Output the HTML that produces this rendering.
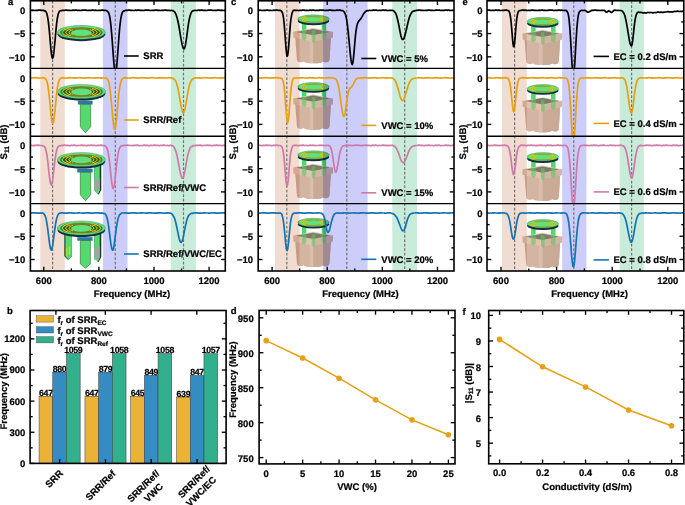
<!DOCTYPE html><html><head><meta charset="utf-8"><style>html,body{margin:0;padding:0;background:#fff;overflow:hidden;width:685px;height:505px;}svg{display:block;font-family:"Liberation Sans",sans-serif;text-rendering:geometricPrecision;will-change:transform;}svg text{stroke:#000;stroke-width:0.22px;}</style></head><body>
<svg width="685" height="505" viewBox="0 0 685 505">
<defs>
<clipPath id="clip_132_0"><rect x="30.4" y="0.8" width="194.9" height="67.60000000000001"/></clipPath>
<clipPath id="clip_132_1"><rect x="30.4" y="68.4" width="194.9" height="67.79999999999998"/></clipPath>
<clipPath id="clip_132_2"><rect x="30.4" y="136.2" width="194.9" height="67.4"/></clipPath>
<clipPath id="clip_132_3"><rect x="30.4" y="203.6" width="194.9" height="67.4"/></clipPath>
</defs>
<rect x="40.3" y="0.8" width="24.50" height="270.2" fill="#F0DCD0"/>
<rect x="102.9" y="0.8" width="24.60" height="270.2" fill="#CDCDFA"/>
<rect x="170.8" y="0.8" width="25.00" height="270.2" fill="#C8EBDA"/>
<line x1="52.6" y1="0.8" x2="52.6" y2="271.0" stroke="#747474" stroke-width="1.2" stroke-dasharray="2.8,1.7"/>
<line x1="115.3" y1="0.8" x2="115.3" y2="271.0" stroke="#747474" stroke-width="1.2" stroke-dasharray="2.8,1.7"/>
<line x1="183.5" y1="0.8" x2="183.5" y2="271.0" stroke="#747474" stroke-width="1.2" stroke-dasharray="2.8,1.7"/>
<ellipse cx="81.4" cy="34.25" rx="23.88" ry="6.9" fill="#142c40"/>
<ellipse cx="81.4" cy="32.25" rx="24.0" ry="6.9" fill="#5EE27C" stroke="#24503a" stroke-width="0.3"/>
<ellipse cx="81.4" cy="32.45" rx="20.16" ry="5.52" fill="#7C7A24"/>
<path d="M81.4,32.45 L95.01,28.01 A21.17,5.80 0 0 1 95.01,36.89 Z" fill="#2f5a2a"/>
<path d="M81.4,32.45 L67.79,28.01 A21.17,5.80 0 0 0 67.79,36.89 Z" fill="#2f5a2a"/>
<ellipse cx="81.4" cy="32.45" rx="20.16" ry="5.52" fill="none" stroke="#5EE27C" stroke-width="0.5"/>
<path d="M94.09,28.48 A18.96,5.34 0 0 1 94.09,36.42" fill="none" stroke="#EDD60A" stroke-width="0.98"/>
<path d="M68.71,28.48 A18.96,5.34 0 0 0 68.71,36.42" fill="none" stroke="#EDD60A" stroke-width="0.98"/>
<path d="M91.92,29.16 A15.72,4.43 0 0 1 91.92,35.74" fill="none" stroke="#EDD60A" stroke-width="0.98"/>
<path d="M70.88,29.16 A15.72,4.43 0 0 0 70.88,35.74" fill="none" stroke="#EDD60A" stroke-width="0.98"/>
<path d="M89.75,29.84 A12.48,3.52 0 0 1 89.75,35.06" fill="none" stroke="#EDD60A" stroke-width="0.98"/>
<path d="M73.05,29.84 A12.48,3.52 0 0 0 73.05,35.06" fill="none" stroke="#EDD60A" stroke-width="0.98"/>
<ellipse cx="81.4" cy="32.75" rx="10.56" ry="3.31" fill="#5EE27C"/>
<rect x="77.9" y="100.6" width="14.7" height="3.9" fill="#2a7aa0"/>
<path d="M80.3,104.3 L90.7,104.3 L90.7,126.8 L85.5,132.8 L80.3,126.8 Z" fill="#55DA70" stroke="#1f4a2a" stroke-width="0.5"/>
<ellipse cx="81.55" cy="93.45" rx="23.88" ry="7.05" fill="#142c40"/>
<ellipse cx="81.55" cy="91.45" rx="24.0" ry="7.05" fill="#5EE27C" stroke="#24503a" stroke-width="0.3"/>
<ellipse cx="81.55" cy="91.65" rx="20.16" ry="5.64" fill="#7C7A24"/>
<path d="M81.55,91.65 L95.16,87.11 A21.17,5.92 0 0 1 95.16,96.19 Z" fill="#2f5a2a"/>
<path d="M81.55,91.65 L67.94,87.11 A21.17,5.92 0 0 0 67.94,96.19 Z" fill="#2f5a2a"/>
<ellipse cx="81.55" cy="91.65" rx="20.16" ry="5.64" fill="none" stroke="#5EE27C" stroke-width="0.5"/>
<path d="M94.24,87.59 A18.96,5.46 0 0 1 94.24,95.71" fill="none" stroke="#EDD60A" stroke-width="0.98"/>
<path d="M68.86,87.59 A18.96,5.46 0 0 0 68.86,95.71" fill="none" stroke="#EDD60A" stroke-width="0.98"/>
<path d="M92.07,88.29 A15.72,4.53 0 0 1 92.07,95.01" fill="none" stroke="#EDD60A" stroke-width="0.98"/>
<path d="M71.03,88.29 A15.72,4.53 0 0 0 71.03,95.01" fill="none" stroke="#EDD60A" stroke-width="0.98"/>
<path d="M89.90,88.98 A12.48,3.59 0 0 1 89.90,94.32" fill="none" stroke="#EDD60A" stroke-width="0.98"/>
<path d="M73.20,88.98 A12.48,3.59 0 0 0 73.20,94.32" fill="none" stroke="#EDD60A" stroke-width="0.98"/>
<ellipse cx="81.55" cy="91.95" rx="10.56" ry="3.38" fill="#5EE27C"/>
<path d="M94.2,164.5 L101.3,164.5 L101.3,190.0 L98.55,194.8 L94.2,190.0 Z" fill="#1e3a2c"/>
<path d="M94.2,164.5 L99.70,164.5 L99.70,190.0 L97.75,194.20 L94.2,190.0 Z" fill="#55DA70"/>
<path d="M94.2,180.5 L99.70,178.0 L99.70,190.0 L97.75,194.20 L94.2,190.0 Z" fill="#A3A3A3"/>
<path d="M94.2,191.5 L99.70,189.0 L99.70,190.0 L97.75,194.20 L94.2,190.0 Z" fill="#55DA70"/>
<rect x="77.3" y="168.6" width="15.3" height="3.9" fill="#2a7aa0"/>
<path d="M80.3,172.3 L90.7,172.3 L90.7,194.8 L85.5,200.8 L80.3,194.8 Z" fill="#55DA70" stroke="#1f4a2a" stroke-width="0.5"/>
<ellipse cx="81.35" cy="161.45" rx="23.88" ry="7.05" fill="#142c40"/>
<ellipse cx="81.35" cy="159.45" rx="24.0" ry="7.05" fill="#5EE27C" stroke="#24503a" stroke-width="0.3"/>
<ellipse cx="81.35" cy="159.65" rx="20.16" ry="5.64" fill="#7C7A24"/>
<path d="M81.35,159.65 L94.96,155.11 A21.17,5.92 0 0 1 94.96,164.19 Z" fill="#2f5a2a"/>
<path d="M81.35,159.65 L67.74,155.11 A21.17,5.92 0 0 0 67.74,164.19 Z" fill="#2f5a2a"/>
<ellipse cx="81.35" cy="159.65" rx="20.16" ry="5.64" fill="none" stroke="#5EE27C" stroke-width="0.5"/>
<path d="M94.04,155.59 A18.96,5.46 0 0 1 94.04,163.71" fill="none" stroke="#EDD60A" stroke-width="0.98"/>
<path d="M68.66,155.59 A18.96,5.46 0 0 0 68.66,163.71" fill="none" stroke="#EDD60A" stroke-width="0.98"/>
<path d="M91.87,156.29 A15.72,4.53 0 0 1 91.87,163.01" fill="none" stroke="#EDD60A" stroke-width="0.98"/>
<path d="M70.83,156.29 A15.72,4.53 0 0 0 70.83,163.01" fill="none" stroke="#EDD60A" stroke-width="0.98"/>
<path d="M89.70,156.98 A12.48,3.59 0 0 1 89.70,162.32" fill="none" stroke="#EDD60A" stroke-width="0.98"/>
<path d="M73.00,156.98 A12.48,3.59 0 0 0 73.00,162.32" fill="none" stroke="#EDD60A" stroke-width="0.98"/>
<ellipse cx="81.35" cy="159.95" rx="10.56" ry="3.38" fill="#5EE27C"/>
<path d="M64.3,234.5 L71.9,234.5 L71.9,256.3 L68.10,260.1 L64.3,256.3 Z" fill="#1e3a2c"/>
<path d="M65.40,234.5 L71.9,234.5 L71.9,256.3 L68.40,259.60 L65.40,256.3 Z" fill="#55DA70"/>
<rect x="66.30" y="247.80" width="1.0" height="8" fill="#E6DC00"/><rect x="68.90" y="246.80" width="1.0" height="8" fill="#E6DC00"/>
<path d="M94.2,234.0 L101.3,234.0 L101.3,257.0 L98.55,262.3 L94.2,257.0 Z" fill="#1e3a2c"/>
<path d="M94.2,234.0 L99.70,234.0 L99.70,257.0 L97.75,261.70 L94.2,257.0 Z" fill="#55DA70"/>
<path d="M94.2,248.5 L99.70,246.0 L99.70,257.0 L97.75,261.70 L94.2,257.0 Z" fill="#A3A3A3"/>
<path d="M94.2,260.5 L99.70,258.0 L99.70,257.0 L97.75,261.70 L94.2,257.0 Z" fill="#55DA70"/>
<rect x="77.3" y="237.2" width="15.3" height="3.5" fill="#2a7aa0"/>
<path d="M80.3,240.5 L90.4,240.5 L90.4,263.9 L85.35,268.29999999999995 L80.3,263.9 Z" fill="#55DA70" stroke="#1f4a2a" stroke-width="0.5"/>
<ellipse cx="81.35" cy="229.95" rx="23.88" ry="7.05" fill="#142c40"/>
<ellipse cx="81.35" cy="227.95" rx="24.0" ry="7.05" fill="#5EE27C" stroke="#24503a" stroke-width="0.3"/>
<ellipse cx="81.35" cy="228.15" rx="20.16" ry="5.64" fill="#7C7A24"/>
<path d="M81.35,228.15 L94.96,223.61 A21.17,5.92 0 0 1 94.96,232.69 Z" fill="#2f5a2a"/>
<path d="M81.35,228.15 L67.74,223.61 A21.17,5.92 0 0 0 67.74,232.69 Z" fill="#2f5a2a"/>
<ellipse cx="81.35" cy="228.15" rx="20.16" ry="5.64" fill="none" stroke="#5EE27C" stroke-width="0.5"/>
<path d="M94.04,224.09 A18.96,5.46 0 0 1 94.04,232.21" fill="none" stroke="#EDD60A" stroke-width="0.98"/>
<path d="M68.66,224.09 A18.96,5.46 0 0 0 68.66,232.21" fill="none" stroke="#EDD60A" stroke-width="0.98"/>
<path d="M91.87,224.79 A15.72,4.53 0 0 1 91.87,231.51" fill="none" stroke="#EDD60A" stroke-width="0.98"/>
<path d="M70.83,224.79 A15.72,4.53 0 0 0 70.83,231.51" fill="none" stroke="#EDD60A" stroke-width="0.98"/>
<path d="M89.70,225.48 A12.48,3.59 0 0 1 89.70,230.82" fill="none" stroke="#EDD60A" stroke-width="0.98"/>
<path d="M73.00,225.48 A12.48,3.59 0 0 0 73.00,230.82" fill="none" stroke="#EDD60A" stroke-width="0.98"/>
<ellipse cx="81.35" cy="228.45" rx="10.56" ry="3.38" fill="#5EE27C"/>
<polyline points="30.4,10.1 30.9,10.2 31.4,10.3 31.9,10.3 32.4,10.3 32.9,10.2 33.4,10.3 33.9,10.4 34.4,10.5 34.9,10.5 35.4,10.5 35.9,10.3 36.4,10.3 36.9,10.3 37.4,10.3 37.9,10.3 38.4,10.2 38.9,10.1 39.4,10.1 39.9,10.1 40.4,10.2 40.9,10.3 41.4,10.4 41.9,10.4 42.4,10.4 42.9,10.4 43.4,10.4 43.9,10.6 44.4,10.8 44.9,10.9 45.4,11.1 45.9,11.6 46.4,12.4 46.9,13.9 47.4,15.9 47.9,18.7 48.4,22.2 48.9,26.6 49.4,31.7 49.9,37.4 50.4,43.4 50.9,49.0 51.4,53.6 51.9,56.8 52.4,58.3 52.9,57.9 53.4,55.7 53.9,51.9 54.4,47.0 55.0,41.2 55.5,35.3 56.0,29.6 56.5,24.7 57.0,20.7 57.5,17.5 58.0,15.1 58.5,13.3 59.0,12.1 59.5,11.3 60.0,10.9 60.5,10.8 61.0,10.7 61.5,10.6 62.0,10.5 62.5,10.4 63.0,10.3 63.5,10.3 64.0,10.4 64.5,10.3 65.0,10.3 65.5,10.1 66.0,10.1 66.5,10.1 67.0,10.2 67.5,10.3 68.0,10.3 68.5,10.3 69.0,10.3 69.5,10.3 70.0,10.4 70.5,10.5 71.0,10.5 71.5,10.5 72.0,10.4 72.5,10.3 73.0,10.2 73.5,10.2 74.0,10.3 74.5,10.3 75.0,10.2 75.5,10.1 76.0,10.1 76.5,10.1 77.0,10.3 77.5,10.4 78.0,10.4 78.5,10.4 79.0,10.4 79.5,10.4 80.0,10.4 80.5,10.5 81.0,10.5 81.5,10.4 82.0,10.3 82.5,10.1 83.0,10.1 83.5,10.2 84.0,10.2 84.5,10.2 85.0,10.2 85.5,10.1 86.0,10.2 86.5,10.3 87.0,10.4 87.5,10.5 88.0,10.5 88.5,10.4 89.0,10.4 89.5,10.3 90.0,10.4 90.5,10.4 91.0,10.4 91.5,10.3 92.0,10.1 92.5,10.1 93.0,10.1 93.5,10.2 94.0,10.3 94.5,10.3 95.0,10.3 95.5,10.2 96.0,10.3 96.5,10.4 97.0,10.5 97.5,10.5 98.0,10.5 98.5,10.4 99.0,10.3 99.5,10.3 100.0,10.3 100.5,10.3 101.0,10.3 101.5,10.2 102.0,10.1 102.5,10.1 103.0,10.1 103.6,10.3 104.1,10.4 104.6,10.4 105.1,10.4 105.6,10.4 106.1,10.5 106.6,10.7 107.1,11.0 107.6,11.4 108.1,12.0 108.6,12.8 109.1,14.1 109.6,16.1 110.1,19.0 110.6,22.7 111.1,27.3 111.6,32.8 112.1,39.1 112.6,45.9 113.1,53.0 113.6,59.7 114.1,65.4 114.6,69.6 115.1,72.0 115.6,72.2 116.1,70.4 116.6,66.8 117.1,61.6 117.6,55.2 118.1,48.2 118.6,41.1 119.1,34.5 119.6,28.8 120.1,24.0 120.6,20.1 121.1,17.0 121.6,14.7 122.1,13.1 122.6,12.0 123.1,11.4 123.6,11.1 124.1,10.9 124.6,10.7 125.1,10.5 125.6,10.4 126.1,10.3 126.6,10.4 127.1,10.4 127.6,10.3 128.1,10.2 128.6,10.1 129.1,10.1 129.6,10.1 130.1,10.3 130.6,10.3 131.1,10.3 131.6,10.3 132.1,10.3 132.6,10.3 133.1,10.5 133.6,10.5 134.1,10.5 134.6,10.4 135.1,10.3 135.6,10.2 136.1,10.2 136.6,10.3 137.1,10.3 137.6,10.2 138.1,10.1 138.6,10.1 139.1,10.1 139.6,10.2 140.1,10.4 140.6,10.4 141.1,10.4 141.6,10.4 142.1,10.3 142.6,10.4 143.1,10.5 143.6,10.5 144.1,10.4 144.6,10.3 145.1,10.2 145.6,10.1 146.1,10.1 146.6,10.2 147.1,10.3 147.6,10.2 148.1,10.2 148.6,10.1 149.1,10.2 149.6,10.4 150.1,10.5 150.6,10.5 151.1,10.5 151.6,10.4 152.1,10.3 152.7,10.3 153.2,10.4 153.7,10.4 154.2,10.3 154.7,10.2 155.2,10.1 155.7,10.1 156.2,10.1 156.7,10.2 157.2,10.3 157.7,10.3 158.2,10.2 158.7,10.3 159.2,10.3 159.7,10.5 160.2,10.5 160.7,10.5 161.2,10.4 161.7,10.3 162.2,10.3 162.7,10.3 163.2,10.3 163.7,10.3 164.2,10.2 164.7,10.1 165.2,10.1 165.7,10.1 166.2,10.2 166.7,10.3 167.2,10.4 167.7,10.4 168.2,10.3 168.7,10.3 169.2,10.4 169.7,10.5 170.2,10.6 170.7,10.5 171.2,10.5 171.7,10.4 172.2,10.5 172.7,10.6 173.2,10.9 173.7,11.2 174.2,11.6 174.7,12.1 175.2,12.8 175.7,13.8 176.2,15.0 176.7,16.6 177.2,18.3 177.7,20.2 178.2,22.5 178.7,25.0 179.2,27.9 179.7,30.9 180.2,34.0 180.7,36.9 181.2,39.8 181.7,42.4 182.2,44.7 182.7,46.7 183.2,48.1 183.7,48.9 184.2,48.8 184.7,47.9 185.2,46.0 185.7,43.5 186.2,40.4 186.7,36.9 187.2,33.1 187.7,29.2 188.2,25.6 188.7,22.4 189.2,19.7 189.7,17.4 190.2,15.5 190.7,13.9 191.2,12.7 191.7,11.8 192.2,11.2 192.7,10.9 193.2,10.8 193.7,10.6 194.2,10.5 194.7,10.4 195.2,10.4 195.7,10.4 196.2,10.5 196.7,10.6 197.2,10.5 197.7,10.3 198.2,10.2 198.7,10.2 199.2,10.2 199.7,10.3 200.2,10.3 200.7,10.2 201.3,10.1 201.8,10.1 202.3,10.2 202.8,10.3 203.3,10.4 203.8,10.4 204.3,10.4 204.8,10.4 205.3,10.4 205.8,10.4 206.3,10.5 206.8,10.5 207.3,10.4 207.8,10.2 208.3,10.1 208.8,10.1 209.3,10.2 209.8,10.2 210.3,10.2 210.8,10.2 211.3,10.1 211.8,10.2 212.3,10.3 212.8,10.4 213.3,10.5 213.8,10.5 214.3,10.4 214.8,10.3 215.3,10.3 215.8,10.4 216.3,10.4 216.8,10.4 217.3,10.2 217.8,10.1 218.3,10.1 218.8,10.1 219.3,10.2 219.8,10.3 220.3,10.3 220.8,10.3 221.3,10.2 221.8,10.3 222.3,10.4 222.8,10.5 223.3,10.5 223.8,10.5 224.3,10.4 224.8,10.3 225.3,10.3" fill="none" stroke="#000" stroke-width="1.7" stroke-linejoin="round" clip-path="url(#clip_132_0)"/>
<polyline points="30.4,78.0 30.9,78.1 31.4,78.1 31.9,78.0 32.4,77.9 32.9,77.8 33.4,77.7 33.9,77.8 34.4,77.8 34.9,77.8 35.4,77.8 35.9,77.7 36.4,77.7 36.9,77.8 37.4,78.0 37.9,78.1 38.4,78.1 38.9,78.0 39.4,78.0 39.9,77.9 40.4,78.0 40.9,78.0 41.4,78.0 41.9,77.9 42.4,77.8 42.9,77.7 43.4,77.7 43.9,77.9 44.4,78.1 44.9,78.4 45.4,78.7 45.9,79.2 46.4,80.1 46.9,81.5 47.4,83.5 47.9,86.1 48.4,89.3 48.9,93.2 49.4,97.7 49.9,102.8 50.4,108.2 50.9,113.3 51.4,117.8 51.9,121.1 52.4,123.0 52.9,123.3 53.4,122.0 53.9,119.3 54.4,115.3 55.0,110.4 55.5,105.1 56.0,99.8 56.5,95.0 57.0,90.8 57.5,87.3 58.0,84.5 58.5,82.3 59.0,80.7 59.5,79.5 60.0,78.8 60.5,78.4 61.0,78.2 61.5,78.0 62.0,77.9 62.5,77.7 63.0,77.7 63.5,77.8 64.0,77.9 64.5,78.0 65.0,78.1 65.5,78.0 66.0,78.0 66.5,78.0 67.0,78.0 67.5,78.1 68.0,78.1 68.5,77.9 69.0,77.8 69.5,77.7 70.0,77.7 70.5,77.8 71.0,77.8 71.5,77.8 72.0,77.8 72.5,77.8 73.0,77.8 73.5,77.9 74.0,78.1 74.5,78.1 75.0,78.1 75.5,78.0 76.0,77.9 76.5,77.9 77.0,78.0 77.5,78.0 78.0,77.9 78.5,77.8 79.0,77.7 79.5,77.7 80.0,77.7 80.5,77.8 81.0,77.9 81.5,77.9 82.0,77.9 82.5,77.9 83.0,77.9 83.5,78.0 84.0,78.1 84.5,78.1 85.0,78.1 85.5,77.9 86.0,77.8 86.5,77.8 87.0,77.9 87.5,77.9 88.0,77.8 88.5,77.8 89.0,77.7 89.5,77.7 90.0,77.8 90.5,77.9 91.0,78.0 91.5,78.0 92.0,78.0 92.5,77.9 93.0,78.0 93.5,78.1 94.0,78.1 94.5,78.1 95.0,78.0 95.5,77.8 96.0,77.7 96.5,77.8 97.0,77.8 97.5,77.8 98.0,77.8 98.5,77.8 99.0,77.7 99.5,77.8 100.0,77.9 100.5,78.0 101.0,78.1 101.5,78.1 102.0,78.0 102.5,77.9 103.0,78.0 103.6,78.0 104.1,78.1 104.6,78.0 105.1,77.9 105.6,77.9 106.1,78.0 106.6,78.3 107.1,78.8 107.6,79.4 108.1,80.4 108.6,81.7 109.1,83.6 109.6,86.3 110.1,89.8 110.6,94.1 111.1,99.0 111.6,104.4 112.1,110.0 112.6,115.7 113.1,120.9 113.6,125.2 114.1,128.2 114.6,129.4 115.1,128.9 115.6,126.6 116.1,123.0 116.6,118.3 117.1,112.9 117.6,107.2 118.1,101.5 118.6,96.3 119.1,91.7 119.6,88.0 120.1,85.1 120.6,82.9 121.1,81.2 121.6,80.0 122.1,79.1 122.6,78.5 123.1,78.2 123.6,78.1 124.1,78.0 124.6,77.9 125.1,77.8 125.6,77.7 126.1,77.8 126.6,77.9 127.1,78.0 127.6,78.1 128.1,78.0 128.6,78.0 129.1,78.0 129.6,78.0 130.1,78.1 130.6,78.1 131.1,78.0 131.6,77.9 132.1,77.7 132.6,77.7 133.1,77.7 133.6,77.8 134.1,77.9 134.6,77.8 135.1,77.8 135.6,77.8 136.1,77.9 136.6,78.0 137.1,78.1 137.6,78.1 138.1,78.1 138.6,78.0 139.1,77.9 139.6,77.9 140.1,78.0 140.6,78.0 141.1,77.9 141.6,77.7 142.1,77.7 142.6,77.7 143.1,77.8 143.6,77.9 144.1,77.9 144.6,77.9 145.1,77.9 145.6,77.9 146.1,78.0 146.6,78.1 147.1,78.1 147.6,78.1 148.1,78.0 148.6,77.9 149.1,77.8 149.6,77.9 150.1,77.9 150.6,77.9 151.1,77.8 151.6,77.7 152.1,77.7 152.7,77.7 153.2,77.9 153.7,78.0 154.2,78.0 154.7,78.0 155.2,77.9 155.7,78.0 156.2,78.0 156.7,78.1 157.2,78.1 157.7,78.0 158.2,77.9 158.7,77.8 159.2,77.7 159.7,77.8 160.2,77.8 160.7,77.8 161.2,77.8 161.7,77.7 162.2,77.7 162.7,77.8 163.2,78.0 163.7,78.1 164.2,78.1 164.7,78.0 165.2,78.0 165.7,77.9 166.2,78.0 166.7,78.0 167.2,78.0 167.7,77.9 168.2,77.8 168.7,77.7 169.2,77.7 169.7,77.8 170.2,77.9 170.7,77.9 171.2,77.9 171.7,78.0 172.2,78.1 172.7,78.3 173.2,78.6 173.7,78.9 174.2,79.3 174.7,79.7 175.2,80.3 175.7,81.2 176.2,82.3 176.7,83.8 177.2,85.5 177.7,87.4 178.2,89.7 178.7,92.3 179.2,95.2 179.7,98.3 180.2,101.4 180.7,104.3 181.2,107.0 181.7,109.2 182.2,111.0 182.7,112.3 183.2,112.8 183.7,112.6 184.2,111.6 184.7,109.9 185.2,107.7 185.7,105.1 186.2,102.3 186.7,99.4 187.2,96.4 187.7,93.4 188.2,90.6 188.7,88.1 189.2,86.1 189.7,84.4 190.2,82.9 190.7,81.7 191.2,80.7 191.7,79.9 192.2,79.3 192.7,79.0 193.2,78.7 193.7,78.4 194.2,78.2 194.7,77.9 195.2,77.8 195.7,77.8 196.2,77.8 196.7,77.9 197.2,77.9 197.7,77.8 198.2,77.8 198.7,77.8 199.2,77.9 199.7,78.1 200.2,78.1 200.7,78.1 201.3,78.0 201.8,77.9 202.3,77.9 202.8,78.0 203.3,78.0 203.8,77.9 204.3,77.8 204.8,77.7 205.3,77.7 205.8,77.7 206.3,77.8 206.8,77.9 207.3,77.9 207.8,77.9 208.3,77.9 208.8,77.9 209.3,78.0 209.8,78.1 210.3,78.1 210.8,78.0 211.3,77.9 211.8,77.8 212.3,77.8 212.8,77.9 213.3,77.9 213.8,77.8 214.3,77.7 214.8,77.7 215.3,77.7 215.8,77.8 216.3,77.9 216.8,78.0 217.3,78.0 217.8,78.0 218.3,77.9 218.8,78.0 219.3,78.1 219.8,78.1 220.3,78.1 220.8,77.9 221.3,77.8 221.8,77.7 222.3,77.8 222.8,77.8 223.3,77.9 223.8,77.8 224.3,77.7 224.8,77.7 225.3,77.8" fill="none" stroke="#E6A014" stroke-width="1.7" stroke-linejoin="round" clip-path="url(#clip_132_1)"/>
<polyline points="30.4,145.4 30.9,145.4 31.4,145.4 31.9,145.4 32.4,145.5 32.9,145.6 33.4,145.6 33.9,145.6 34.4,145.4 34.9,145.3 35.4,145.3 35.9,145.3 36.4,145.4 36.9,145.3 37.4,145.3 37.9,145.2 38.4,145.2 38.9,145.3 39.4,145.4 39.9,145.5 40.4,145.5 40.9,145.5 41.4,145.5 41.9,145.5 42.4,145.7 42.9,145.8 43.4,146.0 43.9,146.1 44.4,146.5 44.9,147.2 45.4,148.3 45.9,150.0 46.4,152.2 46.9,155.0 47.4,158.4 47.9,162.4 48.4,166.8 48.9,171.6 49.4,176.1 49.9,180.1 50.4,183.0 50.9,184.6 51.4,184.9 51.9,183.7 52.4,181.3 52.9,177.8 53.4,173.5 53.9,168.8 54.4,164.2 55.0,159.9 55.5,156.3 56.0,153.3 56.5,150.9 57.0,149.1 57.5,147.8 58.0,146.8 58.5,146.3 59.0,146.0 59.5,145.9 60.0,145.8 60.5,145.6 61.0,145.5 61.5,145.4 62.0,145.4 62.5,145.4 63.0,145.4 63.5,145.3 64.0,145.2 64.5,145.2 65.0,145.2 65.5,145.3 66.0,145.4 66.5,145.5 67.0,145.5 67.5,145.4 68.0,145.4 68.5,145.5 69.0,145.6 69.5,145.6 70.0,145.6 70.5,145.5 71.0,145.3 71.5,145.3 72.0,145.3 72.5,145.3 73.0,145.4 73.5,145.3 74.0,145.2 74.5,145.2 75.0,145.3 75.5,145.4 76.0,145.5 76.5,145.6 77.0,145.6 77.5,145.5 78.0,145.4 78.5,145.5 79.0,145.5 79.5,145.5 80.0,145.5 80.5,145.3 81.0,145.2 81.5,145.2 82.0,145.2 82.5,145.3 83.0,145.4 83.5,145.3 84.0,145.3 84.5,145.3 85.0,145.4 85.5,145.5 86.0,145.6 86.5,145.6 87.0,145.6 87.5,145.4 88.0,145.4 88.5,145.4 89.0,145.5 89.5,145.4 90.0,145.4 90.5,145.2 91.0,145.2 91.5,145.2 92.0,145.3 92.5,145.4 93.0,145.4 93.5,145.4 94.0,145.4 94.5,145.4 95.0,145.5 95.5,145.6 96.0,145.6 96.5,145.6 97.0,145.5 97.5,145.4 98.0,145.3 98.5,145.3 99.0,145.4 99.5,145.4 100.0,145.3 100.5,145.2 101.0,145.2 101.5,145.3 102.0,145.4 102.5,145.5 103.0,145.6 103.6,145.6 104.1,145.6 104.6,145.7 105.1,146.0 105.6,146.4 106.1,146.9 106.6,147.6 107.1,148.6 107.6,150.1 108.1,152.2 108.6,155.1 109.1,158.6 109.6,162.7 110.1,167.2 110.6,172.0 111.1,176.7 111.6,181.2 112.1,184.9 112.6,187.4 113.1,188.6 113.6,188.1 114.1,186.3 114.6,183.2 115.1,179.3 115.6,174.7 116.1,169.9 116.6,165.0 117.1,160.6 117.6,156.7 118.1,153.6 118.6,151.2 119.1,149.4 119.6,148.0 120.1,147.0 120.6,146.4 121.1,146.0 121.6,145.8 122.1,145.8 122.6,145.8 123.1,145.7 123.6,145.5 124.1,145.4 124.6,145.4 125.1,145.4 125.6,145.4 126.1,145.4 126.6,145.3 127.1,145.2 127.6,145.2 128.1,145.2 128.6,145.4 129.1,145.5 129.6,145.5 130.1,145.5 130.6,145.4 131.1,145.5 131.6,145.5 132.1,145.6 132.6,145.6 133.1,145.5 133.6,145.4 134.1,145.3 134.6,145.3 135.1,145.3 135.6,145.4 136.1,145.3 136.6,145.3 137.1,145.2 137.6,145.2 138.1,145.3 138.6,145.5 139.1,145.6 139.6,145.6 140.1,145.5 140.6,145.5 141.1,145.5 141.6,145.5 142.1,145.6 142.6,145.5 143.1,145.4 143.6,145.3 144.1,145.2 144.6,145.2 145.1,145.3 145.6,145.4 146.1,145.4 146.6,145.3 147.1,145.3 147.6,145.3 148.1,145.5 148.6,145.6 149.1,145.6 149.6,145.6 150.1,145.5 150.6,145.4 151.1,145.4 151.6,145.4 152.1,145.5 152.7,145.4 153.2,145.3 153.7,145.2 154.2,145.2 154.7,145.2 155.2,145.4 155.7,145.4 156.2,145.4 156.7,145.4 157.2,145.4 157.7,145.4 158.2,145.5 158.7,145.6 159.2,145.6 159.7,145.5 160.2,145.4 160.7,145.3 161.2,145.3 161.7,145.4 162.2,145.4 162.7,145.3 163.2,145.2 163.7,145.2 164.2,145.2 164.7,145.3 165.2,145.5 165.7,145.5 166.2,145.5 166.7,145.5 167.2,145.4 167.7,145.5 168.2,145.6 168.7,145.6 169.2,145.6 169.7,145.5 170.2,145.4 170.7,145.3 171.2,145.4 171.7,145.6 172.2,145.8 172.7,146.0 173.2,146.3 173.7,146.7 174.2,147.4 174.7,148.4 175.2,149.5 175.7,150.9 176.2,152.4 176.7,154.2 177.2,156.3 177.7,158.8 178.2,161.5 178.7,164.3 179.2,167.0 179.7,169.7 180.2,172.1 180.7,174.3 181.2,176.2 181.7,177.5 182.2,178.2 182.7,178.1 183.2,177.3 183.7,175.9 184.2,174.1 184.7,171.9 185.2,169.4 185.7,166.6 186.2,163.6 186.7,160.7 187.2,158.1 187.7,155.7 188.2,153.6 188.7,151.8 189.2,150.2 189.7,148.9 190.2,147.8 190.7,147.1 191.2,146.7 191.7,146.4 192.2,146.1 192.7,145.9 193.2,145.7 193.7,145.6 194.2,145.6 194.7,145.7 195.2,145.7 195.7,145.6 196.2,145.4 196.7,145.3 197.2,145.3 197.7,145.3 198.2,145.3 198.7,145.4 199.2,145.3 199.7,145.2 200.2,145.2 200.7,145.3 201.3,145.4 201.8,145.6 202.3,145.6 202.8,145.5 203.3,145.5 203.8,145.4 204.3,145.5 204.8,145.5 205.3,145.5 205.8,145.4 206.3,145.3 206.8,145.2 207.3,145.2 207.8,145.3 208.3,145.3 208.8,145.4 209.3,145.3 209.8,145.3 210.3,145.3 210.8,145.4 211.3,145.5 211.8,145.6 212.3,145.6 212.8,145.5 213.3,145.4 213.8,145.4 214.3,145.4 214.8,145.5 215.3,145.4 215.8,145.3 216.3,145.2 216.8,145.2 217.3,145.2 217.8,145.3 218.3,145.4 218.8,145.5 219.3,145.4 219.8,145.4 220.3,145.4 220.8,145.5 221.3,145.6 221.8,145.6 222.3,145.6 222.8,145.4 223.3,145.3 223.8,145.3 224.3,145.3 224.8,145.4 225.3,145.4" fill="none" stroke="#CF79A8" stroke-width="1.7" stroke-linejoin="round" clip-path="url(#clip_132_2)"/>
<polyline points="30.4,213.2 30.9,213.2 31.4,213.1 31.9,212.9 32.4,212.8 32.9,212.8 33.4,212.9 33.9,212.9 34.4,212.9 34.9,212.9 35.4,212.8 35.9,212.9 36.4,213.0 36.9,213.1 37.4,213.2 37.9,213.2 38.4,213.1 38.9,213.1 39.4,213.0 39.9,213.1 40.4,213.1 40.9,213.1 41.4,213.0 41.9,212.9 42.4,212.9 42.9,213.1 43.4,213.4 43.9,213.9 44.4,214.5 44.9,215.3 45.4,216.4 45.9,218.1 46.4,220.4 46.9,223.3 47.4,226.6 47.9,230.3 48.4,234.3 48.9,238.4 49.4,242.3 49.9,245.8 50.4,248.4 50.9,249.8 51.4,250.0 51.9,248.9 52.4,246.8 52.9,243.7 53.4,240.1 53.9,236.1 54.4,231.9 55.0,228.0 55.5,224.4 56.0,221.5 56.5,219.2 57.0,217.4 57.5,216.0 58.0,214.9 58.5,214.1 59.0,213.5 59.5,213.3 60.0,213.1 60.5,213.1 61.0,213.0 61.5,212.9 62.0,212.8 62.5,212.8 63.0,213.0 63.5,213.1 64.0,213.2 64.5,213.2 65.0,213.1 65.5,213.1 66.0,213.1 66.5,213.1 67.0,213.2 67.5,213.1 68.0,213.0 68.5,212.8 69.0,212.8 69.5,212.8 70.0,212.9 70.5,213.0 71.0,213.0 71.5,212.9 72.0,212.9 72.5,213.0 73.0,213.1 73.5,213.2 74.0,213.2 74.5,213.2 75.0,213.1 75.5,213.0 76.0,213.0 76.5,213.0 77.0,213.1 77.5,213.0 78.0,212.9 78.5,212.8 79.0,212.8 79.5,212.8 80.0,213.0 80.5,213.0 81.0,213.0 81.5,213.0 82.0,213.0 82.5,213.1 83.0,213.2 83.5,213.2 84.0,213.2 84.5,213.1 85.0,213.0 85.5,212.9 86.0,212.9 86.5,213.0 87.0,213.0 87.5,212.9 88.0,212.8 88.5,212.8 89.0,212.8 89.5,212.9 90.0,213.1 90.5,213.1 91.0,213.1 91.5,213.1 92.0,213.0 92.5,213.1 93.0,213.2 93.5,213.2 94.0,213.1 94.5,213.0 95.0,212.9 95.5,212.8 96.0,212.9 96.5,212.9 97.0,213.0 97.5,212.9 98.0,212.9 98.5,212.8 99.0,212.9 99.5,213.1 100.0,213.2 100.5,213.2 101.0,213.2 101.5,213.1 102.0,213.1 102.5,213.1 103.0,213.2 103.6,213.3 104.1,213.4 104.6,213.5 105.1,213.8 105.6,214.3 106.1,215.3 106.6,216.6 107.1,218.2 107.6,220.3 108.1,222.9 108.6,226.1 109.1,229.8 109.6,233.8 110.1,237.9 110.6,241.8 111.1,245.1 111.6,247.8 112.1,249.5 112.6,250.2 113.1,249.7 113.6,248.0 114.1,245.3 114.6,241.8 115.1,237.9 115.6,234.0 116.1,230.1 116.6,226.6 117.1,223.4 117.6,220.7 118.1,218.5 118.6,216.8 119.1,215.7 119.6,214.9 120.1,214.3 120.6,213.8 121.1,213.4 121.6,213.1 122.1,213.0 122.6,213.0 123.1,213.0 123.6,213.0 124.1,212.9 124.6,212.8 125.1,212.8 125.6,212.9 126.1,213.0 126.6,213.2 127.1,213.2 127.6,213.1 128.1,213.1 128.6,213.1 129.1,213.1 129.6,213.2 130.1,213.1 130.6,213.0 131.1,212.9 131.6,212.8 132.1,212.8 132.6,212.9 133.1,212.9 133.6,213.0 134.1,212.9 134.6,212.9 135.1,212.9 135.6,213.0 136.1,213.2 136.6,213.2 137.1,213.2 137.6,213.1 138.1,213.0 138.6,213.0 139.1,213.0 139.6,213.1 140.1,213.0 140.6,212.9 141.1,212.8 141.6,212.8 142.1,212.8 142.6,212.9 143.1,213.0 143.6,213.0 144.1,213.0 144.6,213.0 145.1,213.0 145.6,213.1 146.1,213.2 146.6,213.2 147.1,213.2 147.6,213.0 148.1,212.9 148.6,212.9 149.1,212.9 149.6,213.0 150.1,212.9 150.6,212.9 151.1,212.8 151.6,212.8 152.1,212.9 152.7,213.0 153.2,213.1 153.7,213.1 154.2,213.1 154.7,213.0 155.2,213.1 155.7,213.1 156.2,213.2 156.7,213.2 157.2,213.1 157.7,212.9 158.2,212.8 158.7,212.8 159.2,212.9 159.7,212.9 160.2,212.9 160.7,212.9 161.2,212.8 161.7,212.9 162.2,213.0 162.7,213.1 163.2,213.2 163.7,213.2 164.2,213.1 164.7,213.0 165.2,213.0 165.7,213.1 166.2,213.1 166.7,213.1 167.2,212.9 167.7,212.8 168.2,212.8 168.7,212.9 169.2,213.0 169.7,213.1 170.2,213.2 170.7,213.3 171.2,213.5 171.7,213.8 172.2,214.3 172.7,215.0 173.2,215.7 173.7,216.5 174.2,217.5 174.7,218.8 175.2,220.4 175.7,222.3 176.2,224.5 176.7,226.7 177.2,229.1 177.7,231.6 178.2,234.1 178.7,236.5 179.2,238.7 179.7,240.4 180.2,241.6 180.7,242.2 181.2,242.3 181.7,241.8 182.2,240.8 182.7,239.2 183.2,237.2 183.7,234.8 184.2,232.2 184.7,229.5 185.2,227.0 185.7,224.7 186.2,222.6 186.7,220.6 187.2,218.9 187.7,217.4 188.2,216.3 188.7,215.5 189.2,215.0 189.7,214.5 190.2,214.1 190.7,213.7 191.2,213.5 191.7,213.3 192.2,213.3 192.7,213.3 193.2,213.2 193.7,213.0 194.2,212.9 194.7,212.8 195.2,212.8 195.7,212.9 196.2,213.0 196.7,212.9 197.2,212.9 197.7,212.9 198.2,213.0 198.7,213.1 199.2,213.2 199.7,213.2 200.2,213.2 200.7,213.1 201.3,213.0 201.8,213.0 202.3,213.1 202.8,213.1 203.3,213.0 203.8,212.8 204.3,212.8 204.8,212.8 205.3,212.9 205.8,213.0 206.3,213.0 206.8,213.0 207.3,213.0 207.8,213.0 208.3,213.1 208.8,213.2 209.3,213.2 209.8,213.2 210.3,213.1 210.8,213.0 211.3,212.9 211.8,212.9 212.3,213.0 212.8,213.0 213.3,212.9 213.8,212.8 214.3,212.8 214.8,212.8 215.3,213.0 215.8,213.1 216.3,213.1 216.8,213.1 217.3,213.1 217.8,213.0 218.3,213.1 218.8,213.2 219.3,213.2 219.8,213.1 220.3,213.0 220.8,212.9 221.3,212.8 221.8,212.9 222.3,212.9 222.8,212.9 223.3,212.9 223.8,212.8 224.3,212.9 224.8,212.9 225.3,213.1" fill="none" stroke="#1473B4" stroke-width="1.7" stroke-linejoin="round" clip-path="url(#clip_132_3)"/>
<rect x="30.4" y="0.8" width="194.90" height="270.20" fill="none" stroke="#000" stroke-width="1.6"/>
<line x1="30.4" y1="68.4" x2="225.3" y2="68.4" stroke="#000" stroke-width="1.4"/>
<line x1="30.4" y1="136.2" x2="225.3" y2="136.2" stroke="#000" stroke-width="1.4"/>
<line x1="30.4" y1="203.6" x2="225.3" y2="203.6" stroke="#000" stroke-width="1.4"/>
<text x="25.20" y="14.20" font-size="9.5" font-weight="bold" text-anchor="end" >0</text>
<line x1="30.4" y1="21.93" x2="33.0" y2="21.93" stroke="#000" stroke-width="1.35"/>
<line x1="225.3" y1="21.93" x2="222.70000000000002" y2="21.93" stroke="#000" stroke-width="1.35"/>
<line x1="30.4" y1="33.55" x2="34.699999999999996" y2="33.55" stroke="#000" stroke-width="1.35"/>
<line x1="225.3" y1="33.55" x2="221.0" y2="33.55" stroke="#000" stroke-width="1.35"/>
<text x="25.20" y="37.45" font-size="9.5" font-weight="bold" text-anchor="end" >−5</text>
<line x1="30.4" y1="45.17" x2="33.0" y2="45.17" stroke="#000" stroke-width="1.35"/>
<line x1="225.3" y1="45.17" x2="222.70000000000002" y2="45.17" stroke="#000" stroke-width="1.35"/>
<line x1="30.4" y1="56.80" x2="34.699999999999996" y2="56.80" stroke="#000" stroke-width="1.35"/>
<line x1="225.3" y1="56.80" x2="221.0" y2="56.80" stroke="#000" stroke-width="1.35"/>
<text x="25.20" y="60.70" font-size="9.5" font-weight="bold" text-anchor="end" >−10</text>
<text x="25.20" y="81.80" font-size="9.5" font-weight="bold" text-anchor="end" >0</text>
<line x1="30.4" y1="89.53" x2="33.0" y2="89.53" stroke="#000" stroke-width="1.35"/>
<line x1="225.3" y1="89.53" x2="222.70000000000002" y2="89.53" stroke="#000" stroke-width="1.35"/>
<line x1="30.4" y1="101.15" x2="34.699999999999996" y2="101.15" stroke="#000" stroke-width="1.35"/>
<line x1="225.3" y1="101.15" x2="221.0" y2="101.15" stroke="#000" stroke-width="1.35"/>
<text x="25.20" y="105.05" font-size="9.5" font-weight="bold" text-anchor="end" >−5</text>
<line x1="30.4" y1="112.78" x2="33.0" y2="112.78" stroke="#000" stroke-width="1.35"/>
<line x1="225.3" y1="112.78" x2="222.70000000000002" y2="112.78" stroke="#000" stroke-width="1.35"/>
<line x1="30.4" y1="124.40" x2="34.699999999999996" y2="124.40" stroke="#000" stroke-width="1.35"/>
<line x1="225.3" y1="124.40" x2="221.0" y2="124.40" stroke="#000" stroke-width="1.35"/>
<text x="25.20" y="128.30" font-size="9.5" font-weight="bold" text-anchor="end" >−10</text>
<text x="25.20" y="149.30" font-size="9.5" font-weight="bold" text-anchor="end" >0</text>
<line x1="30.4" y1="157.03" x2="33.0" y2="157.03" stroke="#000" stroke-width="1.35"/>
<line x1="225.3" y1="157.03" x2="222.70000000000002" y2="157.03" stroke="#000" stroke-width="1.35"/>
<line x1="30.4" y1="168.65" x2="34.699999999999996" y2="168.65" stroke="#000" stroke-width="1.35"/>
<line x1="225.3" y1="168.65" x2="221.0" y2="168.65" stroke="#000" stroke-width="1.35"/>
<text x="25.20" y="172.55" font-size="9.5" font-weight="bold" text-anchor="end" >−5</text>
<line x1="30.4" y1="180.28" x2="33.0" y2="180.28" stroke="#000" stroke-width="1.35"/>
<line x1="225.3" y1="180.28" x2="222.70000000000002" y2="180.28" stroke="#000" stroke-width="1.35"/>
<line x1="30.4" y1="191.90" x2="34.699999999999996" y2="191.90" stroke="#000" stroke-width="1.35"/>
<line x1="225.3" y1="191.90" x2="221.0" y2="191.90" stroke="#000" stroke-width="1.35"/>
<text x="25.20" y="195.80" font-size="9.5" font-weight="bold" text-anchor="end" >−10</text>
<text x="25.20" y="216.90" font-size="9.5" font-weight="bold" text-anchor="end" >0</text>
<line x1="30.4" y1="224.62" x2="33.0" y2="224.62" stroke="#000" stroke-width="1.35"/>
<line x1="225.3" y1="224.62" x2="222.70000000000002" y2="224.62" stroke="#000" stroke-width="1.35"/>
<line x1="30.4" y1="236.25" x2="34.699999999999996" y2="236.25" stroke="#000" stroke-width="1.35"/>
<line x1="225.3" y1="236.25" x2="221.0" y2="236.25" stroke="#000" stroke-width="1.35"/>
<text x="25.20" y="240.15" font-size="9.5" font-weight="bold" text-anchor="end" >−5</text>
<line x1="30.4" y1="247.88" x2="33.0" y2="247.88" stroke="#000" stroke-width="1.35"/>
<line x1="225.3" y1="247.88" x2="222.70000000000002" y2="247.88" stroke="#000" stroke-width="1.35"/>
<line x1="30.4" y1="259.50" x2="34.699999999999996" y2="259.50" stroke="#000" stroke-width="1.35"/>
<line x1="225.3" y1="259.50" x2="221.0" y2="259.50" stroke="#000" stroke-width="1.35"/>
<text x="25.20" y="263.40" font-size="9.5" font-weight="bold" text-anchor="end" >−10</text>
<line x1="43.80" y1="0.8" x2="43.80" y2="5.1" stroke="#000" stroke-width="1.35"/>
<line x1="43.80" y1="271.0" x2="43.80" y2="266.7" stroke="#000" stroke-width="1.35"/>
<text x="43.80" y="283.80" font-size="9.5" font-weight="bold" text-anchor="middle" >600</text>
<line x1="71.35" y1="0.8" x2="71.35" y2="3.4000000000000004" stroke="#000" stroke-width="1.35"/>
<line x1="71.35" y1="271.0" x2="71.35" y2="268.4" stroke="#000" stroke-width="1.35"/>
<line x1="98.90" y1="0.8" x2="98.90" y2="5.1" stroke="#000" stroke-width="1.35"/>
<line x1="98.90" y1="271.0" x2="98.90" y2="266.7" stroke="#000" stroke-width="1.35"/>
<text x="98.90" y="283.80" font-size="9.5" font-weight="bold" text-anchor="middle" >800</text>
<line x1="126.45" y1="0.8" x2="126.45" y2="3.4000000000000004" stroke="#000" stroke-width="1.35"/>
<line x1="126.45" y1="271.0" x2="126.45" y2="268.4" stroke="#000" stroke-width="1.35"/>
<line x1="154.00" y1="0.8" x2="154.00" y2="5.1" stroke="#000" stroke-width="1.35"/>
<line x1="154.00" y1="271.0" x2="154.00" y2="266.7" stroke="#000" stroke-width="1.35"/>
<text x="154.00" y="283.80" font-size="9.5" font-weight="bold" text-anchor="middle" >1000</text>
<line x1="181.55" y1="0.8" x2="181.55" y2="3.4000000000000004" stroke="#000" stroke-width="1.35"/>
<line x1="181.55" y1="271.0" x2="181.55" y2="268.4" stroke="#000" stroke-width="1.35"/>
<line x1="209.10" y1="0.8" x2="209.10" y2="5.1" stroke="#000" stroke-width="1.35"/>
<line x1="209.10" y1="271.0" x2="209.10" y2="266.7" stroke="#000" stroke-width="1.35"/>
<text x="209.10" y="283.80" font-size="9.5" font-weight="bold" text-anchor="middle" >1200</text>
<text x="131.90" y="297.20" font-size="9.5" font-weight="bold" text-anchor="middle" >Frequency (MHz)</text>
<text transform="translate(6.5,142) rotate(-90)" font-size="9.5" font-weight="bold" text-anchor="middle">S<tspan font-size="6.5" dy="2">11</tspan><tspan dy="-2"> (dB)</tspan></text>
<line x1="124.0" y1="56.0" x2="138.7" y2="56.0" stroke="#000" stroke-width="1.6"/>
<text x="143.30" y="59.40" font-size="9.5" font-weight="bold" text-anchor="start" >SRR</text>
<line x1="124.0" y1="120.0" x2="138.7" y2="120.0" stroke="#E6A014" stroke-width="1.6"/>
<text x="143.30" y="123.40" font-size="9.5" font-weight="bold" text-anchor="start" >SRR/Ref</text>
<line x1="124.0" y1="187.5" x2="138.7" y2="187.5" stroke="#CF79A8" stroke-width="1.6"/>
<text x="143.30" y="190.90" font-size="9.5" font-weight="bold" text-anchor="start" >SRR/Ref/VWC</text>
<line x1="124.0" y1="254.0" x2="138.7" y2="254.0" stroke="#1473B4" stroke-width="1.6"/>
<text x="143.30" y="257.40" font-size="9.5" font-weight="bold" text-anchor="start" >SRR/Ref/VWC/EC</text>
<defs>
<clipPath id="clip_360_0"><rect x="258.2" y="0.8" width="195.8" height="67.60000000000001"/></clipPath>
<clipPath id="clip_360_1"><rect x="258.2" y="68.4" width="195.8" height="67.79999999999998"/></clipPath>
<clipPath id="clip_360_2"><rect x="258.2" y="136.2" width="195.8" height="67.4"/></clipPath>
<clipPath id="clip_360_3"><rect x="258.2" y="203.6" width="195.8" height="67.4"/></clipPath>
</defs>
<rect x="301.90" y="21.1" width="4.5" height="9.90" fill="#4CDA68"/>
<rect x="321.70" y="21.1" width="4.5" height="9.90" fill="#4CDA68"/>
<g transform="translate(293.2,28.0)">
<path d="M2,9 L20,13 L37.7,9 L36.4,30.5 Q36.4,34.0 33.5,34.3 Q30.5,34.5 29.8,33.4 Q28.5,35.3 20,35.3 Q11.5,35.3 10.2,33.4 Q9.5,34.5 6.5,34.3 Q3.6,34.0 3.6,30.5 Z" fill="#D4B4A2"/>
<path d="M20,13.3 L37.7,9 L36.4,30.5 Q36.4,34.0 33.5,34.3 Q30.5,34.5 29.8,33.4 Q28.5,35.3 20,35.3 Z" fill="#C9AA97"/>
<path d="M16.5,12.5 L20,13.3 L20,35.3 L16.5,35.2 Z" fill="#DCBEAC"/>
<path d="M0,3.8 L20,0 L39.7,3.8 L39.5,9.6 L20,13.6 L0.2,9.6 Z" fill="#DFC4B2"/>
<path d="M20,7.8 L39.7,3.8 L39.5,9.6 L20,13.6 Z" fill="#D3B5A3"/>
<path d="M3.2,3.9 L20,0.9 L36.6,3.9 L20,7.2 Z" fill="#7e7b69"/>
</g>
<path d="M301.90,30.50 l4.5,0 l0,8.00 l-2.25,2.2 l-2.25,-2.2 Z" fill="#5CC860" opacity="0.6"/>
<path d="M311.70,30.50 l3.6,0 l0,10.50 l-1.80,2.2 l-1.80,-2.2 Z" fill="#5CC860" opacity="0.6"/>
<path d="M321.70,30.50 l4.5,0 l0,8.00 l-2.25,2.2 l-2.25,-2.2 Z" fill="#5CC860" opacity="0.6"/>
<rect x="306.50" y="21.30" width="14" height="1.6" fill="#2b6f8f"/>
<ellipse cx="313.5" cy="21.0" rx="15.72" ry="4.25" fill="#142c40"/>
<ellipse cx="313.5" cy="19.1" rx="15.8" ry="4.25" fill="#5EE27C" stroke="#24503a" stroke-width="0.3"/>
<ellipse cx="313.5" cy="19.30" rx="12.64" ry="3.23" fill="none" stroke="#A09420" stroke-width="0.55"/>
<ellipse cx="313.5" cy="19.30" rx="11.06" ry="2.83" fill="none" stroke="#A09420" stroke-width="0.55"/>
<ellipse cx="313.5" cy="19.30" rx="9.48" ry="2.42" fill="none" stroke="#A09420" stroke-width="0.55"/>
<path d="M322.33,17.04 A12.48,3.19 0 0 1 322.33,21.56" fill="none" stroke="#E8D20A" stroke-width="0.8"/>
<path d="M304.67,17.04 A12.48,3.19 0 0 0 304.67,21.56" fill="none" stroke="#E8D20A" stroke-width="0.8"/>
<path d="M320.87,17.42 A10.43,2.66 0 0 1 320.87,21.18" fill="none" stroke="#E8D20A" stroke-width="0.8"/>
<path d="M306.13,17.42 A10.43,2.66 0 0 0 306.13,21.18" fill="none" stroke="#E8D20A" stroke-width="0.8"/>
<path d="M319.42,17.79 A8.37,2.14 0 0 1 319.42,20.81" fill="none" stroke="#E8D20A" stroke-width="0.8"/>
<path d="M307.58,17.79 A8.37,2.14 0 0 0 307.58,20.81" fill="none" stroke="#E8D20A" stroke-width="0.8"/>
<ellipse cx="313.5" cy="19.5" rx="7.74" ry="2.12" fill="#5EE27C"/>
<rect x="301.90" y="88.7" width="4.5" height="8.90" fill="#4CDA68"/>
<rect x="321.70" y="88.7" width="4.5" height="8.90" fill="#4CDA68"/>
<g transform="translate(293.2,94.6)">
<path d="M2,9 L20,13 L37.7,9 L36.4,30.5 Q36.4,34.0 33.5,34.3 Q30.5,34.5 29.8,33.4 Q28.5,35.3 20,35.3 Q11.5,35.3 10.2,33.4 Q9.5,34.5 6.5,34.3 Q3.6,34.0 3.6,30.5 Z" fill="#D4B4A2"/>
<path d="M20,13.3 L37.7,9 L36.4,30.5 Q36.4,34.0 33.5,34.3 Q30.5,34.5 29.8,33.4 Q28.5,35.3 20,35.3 Z" fill="#C9AA97"/>
<path d="M16.5,12.5 L20,13.3 L20,35.3 L16.5,35.2 Z" fill="#DCBEAC"/>
<path d="M0,3.8 L20,0 L39.7,3.8 L39.5,9.6 L20,13.6 L0.2,9.6 Z" fill="#DFC4B2"/>
<path d="M20,7.8 L39.7,3.8 L39.5,9.6 L20,13.6 Z" fill="#D3B5A3"/>
<path d="M3.2,3.9 L20,0.9 L36.6,3.9 L20,7.2 Z" fill="#7e7b69"/>
</g>
<path d="M301.90,97.10 l4.5,0 l0,8.00 l-2.25,2.2 l-2.25,-2.2 Z" fill="#5CC860" opacity="0.6"/>
<path d="M311.70,97.10 l3.6,0 l0,10.50 l-1.80,2.2 l-1.80,-2.2 Z" fill="#5CC860" opacity="0.6"/>
<path d="M321.70,97.10 l4.5,0 l0,8.00 l-2.25,2.2 l-2.25,-2.2 Z" fill="#5CC860" opacity="0.6"/>
<rect x="306.50" y="88.90" width="14" height="1.6" fill="#2b6f8f"/>
<ellipse cx="313.5" cy="88.60000000000001" rx="15.72" ry="4.25" fill="#142c40"/>
<ellipse cx="313.5" cy="86.7" rx="15.8" ry="4.25" fill="#5EE27C" stroke="#24503a" stroke-width="0.3"/>
<ellipse cx="313.5" cy="86.90" rx="12.64" ry="3.23" fill="none" stroke="#A09420" stroke-width="0.55"/>
<ellipse cx="313.5" cy="86.90" rx="11.06" ry="2.83" fill="none" stroke="#A09420" stroke-width="0.55"/>
<ellipse cx="313.5" cy="86.90" rx="9.48" ry="2.42" fill="none" stroke="#A09420" stroke-width="0.55"/>
<path d="M322.33,84.64 A12.48,3.19 0 0 1 322.33,89.16" fill="none" stroke="#E8D20A" stroke-width="0.8"/>
<path d="M304.67,84.64 A12.48,3.19 0 0 0 304.67,89.16" fill="none" stroke="#E8D20A" stroke-width="0.8"/>
<path d="M320.87,85.02 A10.43,2.66 0 0 1 320.87,88.78" fill="none" stroke="#E8D20A" stroke-width="0.8"/>
<path d="M306.13,85.02 A10.43,2.66 0 0 0 306.13,88.78" fill="none" stroke="#E8D20A" stroke-width="0.8"/>
<path d="M319.42,85.39 A8.37,2.14 0 0 1 319.42,88.41" fill="none" stroke="#E8D20A" stroke-width="0.8"/>
<path d="M307.58,85.39 A8.37,2.14 0 0 0 307.58,88.41" fill="none" stroke="#E8D20A" stroke-width="0.8"/>
<ellipse cx="313.5" cy="87.10000000000001" rx="7.74" ry="2.12" fill="#5EE27C"/>
<rect x="301.90" y="157.0" width="4.5" height="9.80" fill="#4CDA68"/>
<rect x="321.70" y="157.0" width="4.5" height="9.80" fill="#4CDA68"/>
<g transform="translate(293.2,163.8)">
<path d="M2,9 L20,13 L37.7,9 L36.4,30.5 Q36.4,34.0 33.5,34.3 Q30.5,34.5 29.8,33.4 Q28.5,35.3 20,35.3 Q11.5,35.3 10.2,33.4 Q9.5,34.5 6.5,34.3 Q3.6,34.0 3.6,30.5 Z" fill="#D4B4A2"/>
<path d="M20,13.3 L37.7,9 L36.4,30.5 Q36.4,34.0 33.5,34.3 Q30.5,34.5 29.8,33.4 Q28.5,35.3 20,35.3 Z" fill="#C9AA97"/>
<path d="M16.5,12.5 L20,13.3 L20,35.3 L16.5,35.2 Z" fill="#DCBEAC"/>
<path d="M0,3.8 L20,0 L39.7,3.8 L39.5,9.6 L20,13.6 L0.2,9.6 Z" fill="#DFC4B2"/>
<path d="M20,7.8 L39.7,3.8 L39.5,9.6 L20,13.6 Z" fill="#D3B5A3"/>
<path d="M3.2,3.9 L20,0.9 L36.6,3.9 L20,7.2 Z" fill="#7e7b69"/>
</g>
<path d="M301.90,166.30 l4.5,0 l0,8.00 l-2.25,2.2 l-2.25,-2.2 Z" fill="#5CC860" opacity="0.6"/>
<path d="M311.70,166.30 l3.6,0 l0,10.50 l-1.80,2.2 l-1.80,-2.2 Z" fill="#5CC860" opacity="0.6"/>
<path d="M321.70,166.30 l4.5,0 l0,8.00 l-2.25,2.2 l-2.25,-2.2 Z" fill="#5CC860" opacity="0.6"/>
<rect x="306.50" y="157.20" width="14" height="1.6" fill="#2b6f8f"/>
<ellipse cx="313.5" cy="156.9" rx="15.72" ry="4.25" fill="#142c40"/>
<ellipse cx="313.5" cy="155.0" rx="15.8" ry="4.25" fill="#5EE27C" stroke="#24503a" stroke-width="0.3"/>
<ellipse cx="313.5" cy="155.20" rx="12.64" ry="3.23" fill="none" stroke="#A09420" stroke-width="0.55"/>
<ellipse cx="313.5" cy="155.20" rx="11.06" ry="2.83" fill="none" stroke="#A09420" stroke-width="0.55"/>
<ellipse cx="313.5" cy="155.20" rx="9.48" ry="2.42" fill="none" stroke="#A09420" stroke-width="0.55"/>
<path d="M322.33,152.94 A12.48,3.19 0 0 1 322.33,157.46" fill="none" stroke="#E8D20A" stroke-width="0.8"/>
<path d="M304.67,152.94 A12.48,3.19 0 0 0 304.67,157.46" fill="none" stroke="#E8D20A" stroke-width="0.8"/>
<path d="M320.87,153.32 A10.43,2.66 0 0 1 320.87,157.08" fill="none" stroke="#E8D20A" stroke-width="0.8"/>
<path d="M306.13,153.32 A10.43,2.66 0 0 0 306.13,157.08" fill="none" stroke="#E8D20A" stroke-width="0.8"/>
<path d="M319.42,153.69 A8.37,2.14 0 0 1 319.42,156.71" fill="none" stroke="#E8D20A" stroke-width="0.8"/>
<path d="M307.58,153.69 A8.37,2.14 0 0 0 307.58,156.71" fill="none" stroke="#E8D20A" stroke-width="0.8"/>
<ellipse cx="313.5" cy="155.4" rx="7.74" ry="2.12" fill="#5EE27C"/>
<rect x="301.90" y="224.4" width="4.5" height="10.40" fill="#4CDA68"/>
<rect x="321.70" y="224.4" width="4.5" height="10.40" fill="#4CDA68"/>
<g transform="translate(293.2,231.8)">
<path d="M2,9 L20,13 L37.7,9 L36.4,30.5 Q36.4,34.0 33.5,34.3 Q30.5,34.5 29.8,33.4 Q28.5,35.3 20,35.3 Q11.5,35.3 10.2,33.4 Q9.5,34.5 6.5,34.3 Q3.6,34.0 3.6,30.5 Z" fill="#D4B4A2"/>
<path d="M20,13.3 L37.7,9 L36.4,30.5 Q36.4,34.0 33.5,34.3 Q30.5,34.5 29.8,33.4 Q28.5,35.3 20,35.3 Z" fill="#C9AA97"/>
<path d="M16.5,12.5 L20,13.3 L20,35.3 L16.5,35.2 Z" fill="#DCBEAC"/>
<path d="M0,3.8 L20,0 L39.7,3.8 L39.5,9.6 L20,13.6 L0.2,9.6 Z" fill="#DFC4B2"/>
<path d="M20,7.8 L39.7,3.8 L39.5,9.6 L20,13.6 Z" fill="#D3B5A3"/>
<path d="M3.2,3.9 L20,0.9 L36.6,3.9 L20,7.2 Z" fill="#7e7b69"/>
</g>
<path d="M301.90,234.30 l4.5,0 l0,8.00 l-2.25,2.2 l-2.25,-2.2 Z" fill="#5CC860" opacity="0.6"/>
<path d="M311.70,234.30 l3.6,0 l0,10.50 l-1.80,2.2 l-1.80,-2.2 Z" fill="#5CC860" opacity="0.6"/>
<path d="M321.70,234.30 l4.5,0 l0,8.00 l-2.25,2.2 l-2.25,-2.2 Z" fill="#5CC860" opacity="0.6"/>
<rect x="306.50" y="224.60" width="14" height="1.6" fill="#2b6f8f"/>
<ellipse cx="313.5" cy="224.3" rx="15.72" ry="4.25" fill="#142c40"/>
<ellipse cx="313.5" cy="222.4" rx="15.8" ry="4.25" fill="#5EE27C" stroke="#24503a" stroke-width="0.3"/>
<ellipse cx="313.5" cy="222.60" rx="12.64" ry="3.23" fill="none" stroke="#A09420" stroke-width="0.55"/>
<ellipse cx="313.5" cy="222.60" rx="11.06" ry="2.83" fill="none" stroke="#A09420" stroke-width="0.55"/>
<ellipse cx="313.5" cy="222.60" rx="9.48" ry="2.42" fill="none" stroke="#A09420" stroke-width="0.55"/>
<path d="M322.33,220.34 A12.48,3.19 0 0 1 322.33,224.86" fill="none" stroke="#E8D20A" stroke-width="0.8"/>
<path d="M304.67,220.34 A12.48,3.19 0 0 0 304.67,224.86" fill="none" stroke="#E8D20A" stroke-width="0.8"/>
<path d="M320.87,220.72 A10.43,2.66 0 0 1 320.87,224.48" fill="none" stroke="#E8D20A" stroke-width="0.8"/>
<path d="M306.13,220.72 A10.43,2.66 0 0 0 306.13,224.48" fill="none" stroke="#E8D20A" stroke-width="0.8"/>
<path d="M319.42,221.09 A8.37,2.14 0 0 1 319.42,224.11" fill="none" stroke="#E8D20A" stroke-width="0.8"/>
<path d="M307.58,221.09 A8.37,2.14 0 0 0 307.58,224.11" fill="none" stroke="#E8D20A" stroke-width="0.8"/>
<ellipse cx="313.5" cy="222.8" rx="7.74" ry="2.12" fill="#5EE27C"/>
<rect x="275.0" y="0.8" width="24.50" height="270.2" fill="#F0DCD0" style="mix-blend-mode:multiply"/>
<rect x="323.1" y="0.8" width="44.50" height="270.2" fill="#CDCDFA" style="mix-blend-mode:multiply"/>
<rect x="392.3" y="0.8" width="24.70" height="270.2" fill="#C8EBDA" style="mix-blend-mode:multiply"/>
<line x1="286.8" y1="0.8" x2="286.8" y2="271.0" stroke="#747474" stroke-width="1.2" stroke-dasharray="2.8,1.7"/>
<line x1="346.8" y1="0.8" x2="346.8" y2="271.0" stroke="#747474" stroke-width="1.2" stroke-dasharray="2.8,1.7"/>
<line x1="404.7" y1="0.8" x2="404.7" y2="271.0" stroke="#747474" stroke-width="1.2" stroke-dasharray="2.8,1.7"/>
<polyline points="258.2,10.2 258.7,10.3 259.2,10.3 259.7,10.2 260.2,10.2 260.7,10.2 261.2,10.4 261.7,10.5 262.2,10.5 262.7,10.5 263.2,10.4 263.7,10.3 264.2,10.3 264.7,10.3 265.2,10.4 265.7,10.3 266.2,10.2 266.7,10.1 267.2,10.1 267.7,10.1 268.2,10.3 268.7,10.3 269.2,10.3 269.7,10.3 270.2,10.3 270.7,10.3 271.2,10.5 271.7,10.5 272.2,10.5 272.7,10.4 273.2,10.3 273.7,10.2 274.2,10.2 274.7,10.3 275.2,10.3 275.7,10.2 276.2,10.1 276.7,10.1 277.2,10.1 277.7,10.2 278.2,10.4 278.7,10.4 279.2,10.4 279.7,10.4 280.2,10.4 280.7,10.6 281.2,10.9 281.7,11.5 282.2,12.3 282.7,13.7 283.2,16.0 283.7,19.5 284.2,24.4 284.7,30.5 285.2,37.3 285.7,44.2 286.2,50.2 286.7,54.4 287.2,56.2 287.7,55.2 288.2,51.6 288.7,45.9 289.2,39.1 289.7,32.1 290.2,25.8 290.7,20.7 291.3,16.9 291.8,14.3 292.3,12.5 292.8,11.3 293.3,10.6 293.8,10.3 294.3,10.2 294.8,10.3 295.3,10.3 295.8,10.3 296.3,10.3 296.8,10.3 297.3,10.3 297.8,10.5 298.3,10.5 298.8,10.5 299.3,10.4 299.8,10.3 300.3,10.3 300.8,10.3 301.3,10.3 301.8,10.3 302.3,10.2 302.8,10.1 303.3,10.1 303.8,10.1 304.3,10.2 304.8,10.3 305.3,10.4 305.8,10.4 306.3,10.3 306.8,10.3 307.3,10.4 307.8,10.5 308.3,10.5 308.8,10.5 309.3,10.3 309.8,10.2 310.3,10.2 310.8,10.2 311.3,10.2 311.8,10.3 312.3,10.2 312.8,10.1 313.3,10.1 313.8,10.2 314.3,10.3 314.8,10.5 315.3,10.5 315.8,10.4 316.3,10.4 316.8,10.3 317.3,10.4 317.8,10.4 318.3,10.4 318.8,10.4 319.3,10.2 319.8,10.1 320.3,10.1 320.8,10.1 321.3,10.2 321.8,10.3 322.3,10.2 322.8,10.2 323.3,10.2 323.8,10.3 324.3,10.4 324.8,10.5 325.3,10.5 325.8,10.4 326.3,10.3 326.8,10.3 327.3,10.3 327.8,10.4 328.3,10.3 328.8,10.2 329.3,10.1 329.8,10.1 330.3,10.1 330.8,10.2 331.3,10.3 331.8,10.4 332.3,10.3 332.8,10.3 333.3,10.3 333.8,10.4 334.3,10.5 334.8,10.5 335.3,10.5 335.8,10.4 336.3,10.2 336.8,10.2 337.3,10.2 337.8,10.3 338.3,10.3 338.8,10.2 339.3,10.1 339.8,10.1 340.3,10.2 340.8,10.3 341.3,10.5 341.8,10.6 342.3,10.6 342.8,10.8 343.3,11.0 343.8,11.5 344.3,12.2 344.8,13.0 345.3,14.2 345.8,15.7 346.3,17.8 346.8,20.7 347.3,24.2 347.8,28.4 348.3,33.1 348.8,38.2 349.3,43.5 349.8,48.8 350.3,53.9 350.8,58.3 351.3,61.7 351.8,63.8 352.3,64.5 352.8,63.1 353.3,59.6 353.8,54.7 354.3,49.0 354.8,43.0 355.3,37.3 355.8,32.4 356.4,28.5 356.9,25.8 357.4,23.9 357.9,22.7 358.4,21.7 358.9,21.0 359.4,20.4 359.9,19.8 360.4,19.2 360.9,18.5 361.4,17.7 361.9,16.8 362.4,15.8 362.9,14.9 363.4,14.1 363.9,13.4 364.4,12.8 364.9,12.2 365.4,11.6 365.9,11.2 366.4,10.9 366.9,10.7 367.4,10.7 367.9,10.7 368.4,10.6 368.9,10.5 369.4,10.4 369.9,10.4 370.4,10.5 370.9,10.5 371.4,10.5 371.9,10.4 372.4,10.3 372.9,10.2 373.4,10.2 373.9,10.2 374.4,10.3 374.9,10.2 375.4,10.2 375.9,10.1 376.4,10.1 376.9,10.3 377.4,10.4 377.9,10.5 378.4,10.5 378.9,10.4 379.4,10.4 379.9,10.4 380.4,10.4 380.9,10.5 381.4,10.4 381.9,10.3 382.4,10.1 382.9,10.1 383.4,10.1 383.9,10.2 384.4,10.3 384.9,10.3 385.4,10.2 385.9,10.2 386.4,10.3 386.9,10.4 387.4,10.5 387.9,10.5 388.4,10.5 388.9,10.4 389.4,10.3 389.9,10.3 390.4,10.4 390.9,10.4 391.4,10.4 391.9,10.3 392.4,10.3 392.9,10.4 393.4,10.7 393.9,11.1 394.4,11.6 394.9,12.2 395.4,12.9 395.9,13.8 396.4,15.1 396.9,16.8 397.4,18.7 397.9,20.8 398.4,23.1 398.9,25.5 399.4,28.1 399.9,30.8 400.4,33.4 400.9,35.7 401.4,37.5 401.9,38.7 402.4,39.4 402.9,39.5 403.4,39.2 403.9,38.4 404.4,37.2 404.9,35.6 405.4,33.7 405.9,31.6 406.4,29.4 406.9,27.3 407.4,25.1 407.9,22.9 408.4,20.8 408.9,18.9 409.4,17.2 409.9,15.9 410.4,14.7 410.9,13.8 411.4,12.9 411.9,12.2 412.4,11.7 412.9,11.3 413.4,11.2 413.9,11.1 414.4,10.9 414.9,10.7 415.4,10.6 415.9,10.5 416.4,10.4 416.9,10.4 417.4,10.4 417.9,10.3 418.4,10.2 418.9,10.1 419.4,10.1 419.9,10.1 420.4,10.2 420.9,10.3 421.5,10.3 422.0,10.3 422.5,10.3 423.0,10.3 423.5,10.5 424.0,10.5 424.5,10.5 425.0,10.4 425.5,10.3 426.0,10.3 426.5,10.3 427.0,10.3 427.5,10.3 428.0,10.2 428.5,10.1 429.0,10.1 429.5,10.1 430.0,10.2 430.5,10.3 431.0,10.4 431.5,10.4 432.0,10.3 432.5,10.3 433.0,10.4 433.5,10.5 434.0,10.5 434.5,10.5 435.0,10.3 435.5,10.2 436.0,10.2 436.5,10.2 437.0,10.2 437.5,10.2 438.0,10.2 438.5,10.1 439.0,10.1 439.5,10.2 440.0,10.3 440.5,10.5 441.0,10.5 441.5,10.4 442.0,10.4 442.5,10.3 443.0,10.4 443.5,10.4 444.0,10.4 444.5,10.3 445.0,10.2 445.5,10.1 446.0,10.1 446.5,10.2 447.0,10.2 447.5,10.3 448.0,10.2 448.5,10.2 449.0,10.2 449.5,10.3 450.0,10.4 450.5,10.5 451.0,10.5 451.5,10.4 452.0,10.3 452.5,10.3 453.0,10.3 453.5,10.4 454.0,10.3" fill="none" stroke="#000" stroke-width="1.7" stroke-linejoin="round" clip-path="url(#clip_360_0)"/>
<polyline points="258.2,77.9 258.7,77.9 259.2,77.8 259.7,77.8 260.2,77.9 260.7,78.0 261.2,78.1 261.7,78.1 262.2,78.0 262.7,77.9 263.2,77.9 263.7,77.9 264.2,77.9 264.7,77.9 265.2,77.8 265.7,77.7 266.2,77.7 266.7,77.7 267.2,77.8 267.7,77.9 268.2,78.0 268.7,78.0 269.2,77.9 269.7,77.9 270.2,78.0 270.7,78.1 271.2,78.1 271.7,78.1 272.2,77.9 272.7,77.8 273.2,77.8 273.7,77.8 274.2,77.8 274.7,77.9 275.2,77.8 275.7,77.7 276.2,77.7 276.7,77.8 277.2,77.9 277.7,78.0 278.2,78.1 278.7,78.0 279.2,78.0 279.7,78.0 280.2,78.0 280.7,78.2 281.2,78.3 281.7,78.5 282.2,78.9 282.7,79.8 283.2,81.4 283.7,84.0 284.2,87.8 284.7,92.8 285.2,98.8 285.7,105.4 286.2,112.0 286.7,117.7 287.2,121.5 287.7,122.7 288.2,121.1 288.7,116.9 289.2,111.0 289.7,104.3 290.2,97.7 290.7,91.9 291.3,87.2 291.8,83.6 292.3,81.1 292.8,79.5 293.3,78.6 293.8,78.2 294.3,78.1 294.8,78.0 295.3,77.9 295.8,77.9 296.3,77.9 296.8,78.0 297.3,78.1 297.8,78.1 298.3,78.1 298.8,78.0 299.3,77.9 299.8,77.8 300.3,77.9 300.8,77.9 301.3,77.9 301.8,77.8 302.3,77.7 302.8,77.7 303.3,77.8 303.8,77.9 304.3,78.0 304.8,78.0 305.3,78.0 305.8,77.9 306.3,78.0 306.8,78.0 307.3,78.1 307.8,78.1 308.3,78.0 308.8,77.8 309.3,77.7 309.8,77.7 310.3,77.8 310.8,77.8 311.3,77.8 311.8,77.8 312.3,77.7 312.8,77.8 313.3,77.9 313.8,78.0 314.3,78.1 314.8,78.1 315.3,78.0 315.8,78.0 316.3,77.9 316.8,78.0 317.3,78.0 317.8,78.0 318.3,77.9 318.8,77.7 319.3,77.7 319.8,77.7 320.3,77.8 320.8,77.9 321.3,77.9 321.8,77.8 322.3,77.8 322.8,77.9 323.3,78.0 323.8,78.1 324.3,78.1 324.8,78.1 325.3,78.0 325.8,77.9 326.3,77.9 326.8,77.9 327.3,77.9 327.8,77.9 328.3,77.8 328.8,77.7 329.3,77.7 329.8,77.7 330.3,77.9 330.8,78.0 331.3,78.0 331.8,78.0 332.3,77.9 332.8,78.0 333.3,78.2 333.8,78.3 334.3,78.4 334.8,78.5 335.3,78.7 335.8,79.1 336.3,79.7 336.8,80.7 337.3,81.9 337.8,83.4 338.3,85.3 338.8,87.7 339.3,90.6 339.8,94.0 340.3,97.7 340.8,101.5 341.3,105.2 341.8,108.6 342.3,111.6 342.8,114.1 343.3,115.7 343.8,116.4 344.3,116.0 344.8,114.4 345.3,111.7 345.8,108.5 346.3,104.9 346.8,101.3 347.3,97.9 347.8,94.8 348.3,92.3 348.8,90.4 349.3,89.2 349.8,88.4 350.3,88.0 350.8,87.6 351.3,87.2 351.8,86.6 352.3,85.9 352.8,85.1 353.3,84.2 353.8,83.2 354.3,82.1 354.8,81.1 355.3,80.1 355.8,79.4 356.4,79.0 356.9,78.7 357.4,78.4 357.9,78.2 358.4,78.1 358.9,78.0 359.4,78.0 359.9,78.1 360.4,78.2 360.9,78.1 361.4,78.0 361.9,77.9 362.4,77.8 362.9,77.8 363.4,77.9 363.9,77.9 364.4,77.8 364.9,77.7 365.4,77.7 365.9,77.7 366.4,77.8 366.9,78.0 367.4,78.0 367.9,78.0 368.4,78.0 368.9,77.9 369.4,78.0 369.9,78.1 370.4,78.1 370.9,78.0 371.4,77.9 371.9,77.8 372.4,77.7 372.9,77.8 373.4,77.8 373.9,77.8 374.4,77.8 374.9,77.7 375.4,77.7 375.9,77.8 376.4,77.9 376.9,78.1 377.4,78.1 377.9,78.1 378.4,78.0 378.9,77.9 379.4,78.0 379.9,78.0 380.4,78.0 380.9,77.9 381.4,77.8 381.9,77.7 382.4,77.7 382.9,77.7 383.4,77.8 383.9,77.9 384.4,77.9 384.9,77.8 385.4,77.8 385.9,77.9 386.4,78.1 386.9,78.1 387.4,78.1 387.9,78.0 388.4,77.9 388.9,77.9 389.4,77.9 389.9,78.0 390.4,78.0 390.9,77.9 391.4,77.9 391.9,77.9 392.4,78.1 392.9,78.4 393.4,78.8 393.9,79.2 394.4,79.6 394.9,80.2 395.4,81.0 395.9,82.1 396.4,83.4 396.9,84.8 397.4,86.3 397.9,87.9 398.4,89.7 398.9,91.6 399.4,93.6 399.9,95.5 400.4,97.2 400.9,98.5 401.4,99.5 401.9,100.2 402.4,100.5 402.9,100.4 403.4,100.0 403.9,99.2 404.4,98.0 404.9,96.6 405.4,95.0 405.9,93.4 406.4,91.7 406.9,90.0 407.4,88.3 407.9,86.5 408.4,85.0 408.9,83.7 409.4,82.6 409.9,81.7 410.4,80.9 410.9,80.1 411.4,79.5 411.9,79.1 412.4,78.9 412.9,78.7 413.4,78.6 413.9,78.5 414.4,78.3 414.9,78.1 415.4,78.0 415.9,78.0 416.4,78.0 416.9,78.0 417.4,77.9 417.9,77.7 418.4,77.7 418.9,77.7 419.4,77.8 419.9,77.9 420.4,77.9 420.9,77.9 421.5,77.9 422.0,77.9 422.5,78.0 423.0,78.1 423.5,78.1 424.0,78.1 424.5,78.0 425.0,77.9 425.5,77.8 426.0,77.9 426.5,77.9 427.0,77.9 427.5,77.8 428.0,77.7 428.5,77.7 429.0,77.8 429.5,77.9 430.0,78.0 430.5,78.0 431.0,78.0 431.5,77.9 432.0,78.0 432.5,78.0 433.0,78.1 433.5,78.1 434.0,78.0 434.5,77.8 435.0,77.7 435.5,77.7 436.0,77.8 436.5,77.8 437.0,77.8 437.5,77.8 438.0,77.7 438.5,77.8 439.0,77.9 439.5,78.0 440.0,78.1 440.5,78.1 441.0,78.0 441.5,77.9 442.0,77.9 442.5,78.0 443.0,78.0 443.5,78.0 444.0,77.9 444.5,77.7 445.0,77.7 445.5,77.7 446.0,77.8 446.5,77.9 447.0,77.9 447.5,77.8 448.0,77.8 448.5,77.9 449.0,78.0 449.5,78.1 450.0,78.1 450.5,78.1 451.0,78.0 451.5,77.9 452.0,77.9 452.5,77.9 453.0,77.9 453.5,77.9 454.0,77.8" fill="none" stroke="#E6A014" stroke-width="1.7" stroke-linejoin="round" clip-path="url(#clip_360_1)"/>
<polyline points="258.2,145.3 258.7,145.4 259.2,145.4 259.7,145.3 260.2,145.3 260.7,145.4 261.2,145.5 261.7,145.6 262.2,145.6 262.7,145.6 263.2,145.4 263.7,145.4 264.2,145.4 264.7,145.4 265.2,145.4 265.7,145.4 266.2,145.2 266.7,145.2 267.2,145.2 267.7,145.3 268.2,145.4 268.7,145.5 269.2,145.4 269.7,145.4 270.2,145.4 270.7,145.5 271.2,145.6 271.7,145.6 272.2,145.6 272.7,145.5 273.2,145.4 273.7,145.3 274.2,145.3 274.7,145.4 275.2,145.4 275.7,145.3 276.2,145.2 276.7,145.2 277.2,145.2 277.7,145.4 278.2,145.5 278.7,145.6 279.2,145.5 279.7,145.5 280.2,145.6 280.7,145.8 281.2,146.1 281.7,146.7 282.2,147.6 282.7,149.1 283.2,151.5 283.7,155.1 284.2,159.9 284.7,165.6 285.2,171.7 285.7,177.6 286.2,182.3 286.7,185.2 287.2,185.9 287.7,184.0 288.2,180.1 288.7,174.5 289.2,168.4 289.7,162.4 290.2,157.2 290.7,153.1 291.3,150.2 291.8,148.2 292.3,146.8 292.8,146.0 293.3,145.5 293.8,145.3 294.3,145.3 294.8,145.4 295.3,145.4 295.8,145.4 296.3,145.4 296.8,145.4 297.3,145.5 297.8,145.6 298.3,145.6 298.8,145.6 299.3,145.5 299.8,145.4 300.3,145.3 300.8,145.4 301.3,145.4 301.8,145.4 302.3,145.3 302.8,145.2 303.3,145.2 303.8,145.2 304.3,145.4 304.8,145.5 305.3,145.5 305.8,145.5 306.3,145.4 306.8,145.4 307.3,145.5 307.8,145.6 308.3,145.6 308.8,145.5 309.3,145.4 309.8,145.3 310.3,145.2 310.8,145.3 311.3,145.3 311.8,145.3 312.3,145.3 312.8,145.2 313.3,145.2 313.8,145.3 314.3,145.5 314.8,145.6 315.3,145.6 315.8,145.5 316.3,145.5 316.8,145.5 317.3,145.5 317.8,145.5 318.3,145.5 318.8,145.4 319.3,145.3 319.8,145.2 320.3,145.2 320.8,145.3 321.3,145.4 321.8,145.4 322.3,145.3 322.8,145.3 323.3,145.3 323.8,145.5 324.3,145.6 324.8,145.6 325.3,145.6 325.8,145.5 326.3,145.4 326.8,145.4 327.3,145.5 327.8,145.5 328.3,145.5 328.8,145.6 329.3,145.7 329.8,146.1 330.3,146.8 330.8,147.9 331.3,149.4 331.8,151.4 332.3,153.9 332.8,156.9 333.3,160.3 333.8,163.9 334.3,167.3 334.8,170.0 335.3,171.7 335.8,172.1 336.3,171.5 336.8,170.0 337.3,167.8 337.8,165.1 338.3,162.0 338.8,158.8 339.3,155.8 339.8,153.3 340.3,151.2 340.8,149.6 341.3,148.3 341.8,147.4 342.3,146.6 342.8,146.1 343.3,145.9 343.8,145.8 344.3,145.7 344.8,145.6 345.3,145.5 345.8,145.3 346.3,145.2 346.8,145.2 347.3,145.3 347.8,145.4 348.3,145.3 348.8,145.3 349.3,145.3 349.8,145.3 350.3,145.4 350.8,145.6 351.3,145.6 351.8,145.6 352.3,145.5 352.8,145.4 353.3,145.4 353.8,145.5 354.3,145.5 354.8,145.4 355.3,145.3 355.8,145.2 356.4,145.2 356.9,145.2 357.4,145.3 357.9,145.4 358.4,145.4 358.9,145.4 359.4,145.4 359.9,145.4 360.4,145.5 360.9,145.6 361.4,145.6 361.9,145.6 362.4,145.4 362.9,145.4 363.4,145.3 363.9,145.4 364.4,145.4 364.9,145.3 365.4,145.2 365.9,145.2 366.4,145.2 366.9,145.3 367.4,145.4 367.9,145.5 368.4,145.5 368.9,145.4 369.4,145.4 369.9,145.5 370.4,145.6 370.9,145.6 371.4,145.6 371.9,145.4 372.4,145.3 372.9,145.2 373.4,145.3 373.9,145.3 374.4,145.4 374.9,145.3 375.4,145.2 375.9,145.2 376.4,145.3 376.9,145.4 377.4,145.5 377.9,145.6 378.4,145.6 378.9,145.5 379.4,145.4 379.9,145.5 380.4,145.5 380.9,145.5 381.4,145.5 381.9,145.3 382.4,145.2 382.9,145.2 383.4,145.2 383.9,145.3 384.4,145.4 384.9,145.4 385.4,145.3 385.9,145.3 386.4,145.4 386.9,145.5 387.4,145.6 387.9,145.6 388.4,145.6 388.9,145.4 389.4,145.4 389.9,145.4 390.4,145.5 390.9,145.5 391.4,145.4 391.9,145.3 392.4,145.3 392.9,145.4 393.4,145.7 393.9,146.0 394.4,146.3 394.9,146.6 395.4,147.0 395.9,147.6 396.4,148.4 396.9,149.4 397.4,150.5 397.9,151.6 398.4,152.8 398.9,154.1 399.4,155.5 399.9,157.1 400.4,158.5 400.9,159.9 401.4,160.9 401.9,161.7 402.4,162.2 402.9,162.5 403.4,162.6 403.9,162.4 404.4,161.8 404.9,160.9 405.4,159.9 405.9,158.7 406.4,157.5 406.9,156.3 407.4,155.0 407.9,153.6 408.4,152.2 408.9,151.0 409.4,150.0 409.9,149.1 410.4,148.4 410.9,147.8 411.4,147.2 411.9,146.7 412.4,146.3 412.9,146.2 413.4,146.1 413.9,146.0 414.4,145.9 414.9,145.7 415.4,145.6 415.9,145.5 416.4,145.5 416.9,145.5 417.4,145.5 417.9,145.4 418.4,145.2 418.9,145.2 419.4,145.2 419.9,145.3 420.4,145.4 420.9,145.4 421.5,145.4 422.0,145.4 422.5,145.4 423.0,145.5 423.5,145.6 424.0,145.6 424.5,145.6 425.0,145.5 425.5,145.4 426.0,145.3 426.5,145.4 427.0,145.4 427.5,145.4 428.0,145.3 428.5,145.2 429.0,145.2 429.5,145.2 430.0,145.4 430.5,145.5 431.0,145.5 431.5,145.5 432.0,145.4 432.5,145.5 433.0,145.5 433.5,145.6 434.0,145.6 434.5,145.5 435.0,145.4 435.5,145.3 436.0,145.2 436.5,145.3 437.0,145.3 437.5,145.3 438.0,145.3 438.5,145.2 439.0,145.2 439.5,145.3 440.0,145.5 440.5,145.6 441.0,145.6 441.5,145.5 442.0,145.5 442.5,145.5 443.0,145.5 443.5,145.5 444.0,145.5 444.5,145.4 445.0,145.3 445.5,145.2 446.0,145.2 446.5,145.3 447.0,145.4 447.5,145.4 448.0,145.3 448.5,145.3 449.0,145.3 449.5,145.5 450.0,145.6 450.5,145.6 451.0,145.6 451.5,145.5 452.0,145.4 452.5,145.4 453.0,145.4 453.5,145.4 454.0,145.4" fill="none" stroke="#CF79A8" stroke-width="1.7" stroke-linejoin="round" clip-path="url(#clip_360_2)"/>
<polyline points="258.2,213.0 258.7,213.1 259.2,213.2 259.7,213.2 260.2,213.2 260.7,213.1 261.2,213.0 261.7,212.9 262.2,212.9 262.7,213.0 263.2,213.0 263.7,212.9 264.2,212.8 264.7,212.8 265.2,212.8 265.7,213.0 266.2,213.1 266.7,213.1 267.2,213.1 267.7,213.1 268.2,213.0 268.7,213.1 269.2,213.2 269.7,213.2 270.2,213.1 270.7,213.0 271.2,212.9 271.7,212.8 272.2,212.9 272.7,212.9 273.2,212.9 273.7,212.9 274.2,212.8 274.7,212.8 275.2,212.9 275.7,213.1 276.2,213.2 276.7,213.2 277.2,213.1 277.7,213.1 278.2,213.0 278.7,213.1 279.2,213.1 279.7,213.2 280.2,213.2 280.7,213.2 281.2,213.5 281.7,214.2 282.2,215.4 282.7,217.3 283.2,219.9 283.7,223.4 284.2,227.8 284.7,233.0 285.2,238.5 285.7,243.7 286.2,247.8 286.7,250.3 287.2,250.6 287.7,248.9 288.2,245.4 288.7,240.6 289.2,235.3 289.7,230.0 290.2,225.1 290.7,221.1 291.3,218.1 291.8,216.0 292.3,214.8 292.8,214.0 293.3,213.6 293.8,213.3 294.3,213.1 294.8,213.1 295.3,213.1 295.8,213.2 296.3,213.2 296.8,213.2 297.3,213.0 297.8,212.9 298.3,212.9 298.8,212.9 299.3,213.0 299.8,212.9 300.3,212.9 300.8,212.8 301.3,212.8 301.8,212.9 302.3,213.1 302.8,213.2 303.3,213.2 303.8,213.1 304.3,213.1 304.8,213.1 305.3,213.1 305.8,213.2 306.3,213.1 306.8,213.0 307.3,212.9 307.8,212.8 308.3,212.8 308.8,212.9 309.3,212.9 309.8,213.0 310.3,212.9 310.8,212.9 311.3,212.9 311.8,213.0 312.3,213.2 312.8,213.2 313.3,213.2 313.8,213.1 314.3,213.0 314.8,213.0 315.3,213.0 315.8,213.1 316.3,213.0 316.8,212.9 317.3,212.8 317.8,212.8 318.3,212.8 318.8,212.9 319.3,213.0 319.8,213.0 320.3,213.0 320.8,213.0 321.3,213.2 321.8,213.4 322.3,213.8 322.8,214.3 323.3,214.9 323.8,215.9 324.3,217.4 324.8,219.5 325.3,222.1 325.8,224.9 326.3,227.6 326.8,230.0 327.3,231.6 327.8,232.4 328.3,232.3 328.8,231.6 329.3,230.4 329.8,228.7 330.3,226.6 330.8,224.5 331.3,222.4 331.8,220.5 332.3,218.9 332.8,217.4 333.3,216.1 333.8,215.0 334.3,214.2 334.8,213.8 335.3,213.5 335.8,213.3 336.3,213.1 336.8,213.0 337.3,212.9 337.8,212.9 338.3,213.0 338.8,213.2 339.3,213.2 339.8,213.2 340.3,213.1 340.8,213.0 341.3,213.0 341.8,213.1 342.3,213.1 342.8,213.1 343.3,212.9 343.8,212.8 344.3,212.8 344.8,212.8 345.3,212.9 345.8,213.0 346.3,213.0 346.8,212.9 347.3,212.9 347.8,213.0 348.3,213.1 348.8,213.2 349.3,213.2 349.8,213.2 350.3,213.1 350.8,213.0 351.3,213.0 351.8,213.0 352.3,213.0 352.8,213.0 353.3,212.8 353.8,212.8 354.3,212.8 354.8,212.9 355.3,213.0 355.8,213.1 356.4,213.1 356.9,213.0 357.4,213.0 357.9,213.1 358.4,213.2 358.9,213.2 359.4,213.2 359.9,213.1 360.4,212.9 360.9,212.9 361.4,212.9 361.9,212.9 362.4,213.0 362.9,212.9 363.4,212.8 363.9,212.8 364.4,212.9 364.9,213.0 365.4,213.1 365.9,213.2 366.4,213.2 366.9,213.1 367.4,213.0 367.9,213.1 368.4,213.1 368.9,213.2 369.4,213.1 369.9,213.0 370.4,212.8 370.9,212.8 371.4,212.8 371.9,212.9 372.4,213.0 372.9,212.9 373.4,212.9 373.9,212.9 374.4,213.0 374.9,213.1 375.4,213.2 375.9,213.2 376.4,213.2 376.9,213.1 377.4,213.0 377.9,213.0 378.4,213.1 378.9,213.1 379.4,213.0 379.9,212.9 380.4,212.8 380.9,212.8 381.4,212.9 381.9,213.0 382.4,213.0 382.9,213.0 383.4,213.0 383.9,213.0 384.4,213.1 384.9,213.2 385.4,213.2 385.9,213.2 386.4,213.1 386.9,213.0 387.4,212.9 387.9,212.9 388.4,213.0 388.9,213.0 389.4,212.9 389.9,212.9 390.4,212.9 390.9,213.0 391.4,213.2 391.9,213.4 392.4,213.6 392.9,213.7 393.4,213.9 393.9,214.2 394.4,214.6 394.9,215.1 395.4,215.7 395.9,216.3 396.4,217.0 396.9,217.8 397.4,218.8 397.9,220.0 398.4,221.3 398.9,222.7 399.4,223.9 399.9,225.2 400.4,226.5 400.9,227.8 401.4,228.9 401.9,229.9 402.4,230.5 402.9,230.8 403.4,230.7 403.9,230.4 404.4,229.6 404.9,228.4 405.4,226.9 405.9,225.1 406.4,223.1 406.9,221.3 407.4,219.6 407.9,218.2 408.4,217.1 408.9,216.0 409.4,215.2 409.9,214.5 410.4,214.0 410.9,213.8 411.4,213.6 411.9,213.5 412.4,213.4 412.9,213.2 413.4,213.1 413.9,213.0 414.4,213.0 414.9,213.0 415.4,213.0 415.9,212.9 416.4,212.8 416.9,212.8 417.4,212.8 417.9,212.9 418.4,213.1 418.9,213.1 419.4,213.1 419.9,213.0 420.4,213.0 420.9,213.1 421.5,213.2 422.0,213.2 422.5,213.1 423.0,213.0 423.5,212.9 424.0,212.9 424.5,212.9 425.0,213.0 425.5,212.9 426.0,212.9 426.5,212.8 427.0,212.8 427.5,212.9 428.0,213.1 428.5,213.2 429.0,213.2 429.5,213.1 430.0,213.1 430.5,213.1 431.0,213.1 431.5,213.2 432.0,213.1 432.5,213.0 433.0,212.9 433.5,212.8 434.0,212.8 434.5,212.9 435.0,213.0 435.5,213.0 436.0,212.9 436.5,212.9 437.0,212.9 437.5,213.0 438.0,213.2 438.5,213.2 439.0,213.2 439.5,213.1 440.0,213.0 440.5,213.0 441.0,213.0 441.5,213.1 442.0,213.0 442.5,212.9 443.0,212.8 443.5,212.8 444.0,212.8 444.5,212.9 445.0,213.0 445.5,213.0 446.0,213.0 446.5,213.0 447.0,213.0 447.5,213.1 448.0,213.2 448.5,213.2 449.0,213.2 449.5,213.0 450.0,212.9 450.5,212.9 451.0,213.0 451.5,213.0 452.0,212.9 452.5,212.9 453.0,212.8 453.5,212.8 454.0,212.9" fill="none" stroke="#1473B4" stroke-width="1.7" stroke-linejoin="round" clip-path="url(#clip_360_3)"/>
<rect x="258.2" y="0.8" width="195.80" height="270.20" fill="none" stroke="#000" stroke-width="1.6"/>
<line x1="258.2" y1="68.4" x2="454.0" y2="68.4" stroke="#000" stroke-width="1.4"/>
<line x1="258.2" y1="136.2" x2="454.0" y2="136.2" stroke="#000" stroke-width="1.4"/>
<line x1="258.2" y1="203.6" x2="454.0" y2="203.6" stroke="#000" stroke-width="1.4"/>
<text x="253.00" y="14.20" font-size="9.5" font-weight="bold" text-anchor="end" >0</text>
<line x1="258.2" y1="21.93" x2="260.8" y2="21.93" stroke="#000" stroke-width="1.35"/>
<line x1="454.0" y1="21.93" x2="451.4" y2="21.93" stroke="#000" stroke-width="1.35"/>
<line x1="258.2" y1="33.55" x2="262.5" y2="33.55" stroke="#000" stroke-width="1.35"/>
<line x1="454.0" y1="33.55" x2="449.7" y2="33.55" stroke="#000" stroke-width="1.35"/>
<text x="253.00" y="37.45" font-size="9.5" font-weight="bold" text-anchor="end" >−5</text>
<line x1="258.2" y1="45.17" x2="260.8" y2="45.17" stroke="#000" stroke-width="1.35"/>
<line x1="454.0" y1="45.17" x2="451.4" y2="45.17" stroke="#000" stroke-width="1.35"/>
<line x1="258.2" y1="56.80" x2="262.5" y2="56.80" stroke="#000" stroke-width="1.35"/>
<line x1="454.0" y1="56.80" x2="449.7" y2="56.80" stroke="#000" stroke-width="1.35"/>
<text x="253.00" y="60.70" font-size="9.5" font-weight="bold" text-anchor="end" >−10</text>
<text x="253.00" y="81.80" font-size="9.5" font-weight="bold" text-anchor="end" >0</text>
<line x1="258.2" y1="89.53" x2="260.8" y2="89.53" stroke="#000" stroke-width="1.35"/>
<line x1="454.0" y1="89.53" x2="451.4" y2="89.53" stroke="#000" stroke-width="1.35"/>
<line x1="258.2" y1="101.15" x2="262.5" y2="101.15" stroke="#000" stroke-width="1.35"/>
<line x1="454.0" y1="101.15" x2="449.7" y2="101.15" stroke="#000" stroke-width="1.35"/>
<text x="253.00" y="105.05" font-size="9.5" font-weight="bold" text-anchor="end" >−5</text>
<line x1="258.2" y1="112.78" x2="260.8" y2="112.78" stroke="#000" stroke-width="1.35"/>
<line x1="454.0" y1="112.78" x2="451.4" y2="112.78" stroke="#000" stroke-width="1.35"/>
<line x1="258.2" y1="124.40" x2="262.5" y2="124.40" stroke="#000" stroke-width="1.35"/>
<line x1="454.0" y1="124.40" x2="449.7" y2="124.40" stroke="#000" stroke-width="1.35"/>
<text x="253.00" y="128.30" font-size="9.5" font-weight="bold" text-anchor="end" >−10</text>
<text x="253.00" y="149.30" font-size="9.5" font-weight="bold" text-anchor="end" >0</text>
<line x1="258.2" y1="157.03" x2="260.8" y2="157.03" stroke="#000" stroke-width="1.35"/>
<line x1="454.0" y1="157.03" x2="451.4" y2="157.03" stroke="#000" stroke-width="1.35"/>
<line x1="258.2" y1="168.65" x2="262.5" y2="168.65" stroke="#000" stroke-width="1.35"/>
<line x1="454.0" y1="168.65" x2="449.7" y2="168.65" stroke="#000" stroke-width="1.35"/>
<text x="253.00" y="172.55" font-size="9.5" font-weight="bold" text-anchor="end" >−5</text>
<line x1="258.2" y1="180.28" x2="260.8" y2="180.28" stroke="#000" stroke-width="1.35"/>
<line x1="454.0" y1="180.28" x2="451.4" y2="180.28" stroke="#000" stroke-width="1.35"/>
<line x1="258.2" y1="191.90" x2="262.5" y2="191.90" stroke="#000" stroke-width="1.35"/>
<line x1="454.0" y1="191.90" x2="449.7" y2="191.90" stroke="#000" stroke-width="1.35"/>
<text x="253.00" y="195.80" font-size="9.5" font-weight="bold" text-anchor="end" >−10</text>
<text x="253.00" y="216.90" font-size="9.5" font-weight="bold" text-anchor="end" >0</text>
<line x1="258.2" y1="224.62" x2="260.8" y2="224.62" stroke="#000" stroke-width="1.35"/>
<line x1="454.0" y1="224.62" x2="451.4" y2="224.62" stroke="#000" stroke-width="1.35"/>
<line x1="258.2" y1="236.25" x2="262.5" y2="236.25" stroke="#000" stroke-width="1.35"/>
<line x1="454.0" y1="236.25" x2="449.7" y2="236.25" stroke="#000" stroke-width="1.35"/>
<text x="253.00" y="240.15" font-size="9.5" font-weight="bold" text-anchor="end" >−5</text>
<line x1="258.2" y1="247.88" x2="260.8" y2="247.88" stroke="#000" stroke-width="1.35"/>
<line x1="454.0" y1="247.88" x2="451.4" y2="247.88" stroke="#000" stroke-width="1.35"/>
<line x1="258.2" y1="259.50" x2="262.5" y2="259.50" stroke="#000" stroke-width="1.35"/>
<line x1="454.0" y1="259.50" x2="449.7" y2="259.50" stroke="#000" stroke-width="1.35"/>
<text x="253.00" y="263.40" font-size="9.5" font-weight="bold" text-anchor="end" >−10</text>
<line x1="272.10" y1="0.8" x2="272.10" y2="5.1" stroke="#000" stroke-width="1.35"/>
<line x1="272.10" y1="271.0" x2="272.10" y2="266.7" stroke="#000" stroke-width="1.35"/>
<text x="272.10" y="283.80" font-size="9.5" font-weight="bold" text-anchor="middle" >600</text>
<line x1="299.66" y1="0.8" x2="299.66" y2="3.4000000000000004" stroke="#000" stroke-width="1.35"/>
<line x1="299.66" y1="271.0" x2="299.66" y2="268.4" stroke="#000" stroke-width="1.35"/>
<line x1="327.22" y1="0.8" x2="327.22" y2="5.1" stroke="#000" stroke-width="1.35"/>
<line x1="327.22" y1="271.0" x2="327.22" y2="266.7" stroke="#000" stroke-width="1.35"/>
<text x="327.22" y="283.80" font-size="9.5" font-weight="bold" text-anchor="middle" >800</text>
<line x1="354.78" y1="0.8" x2="354.78" y2="3.4000000000000004" stroke="#000" stroke-width="1.35"/>
<line x1="354.78" y1="271.0" x2="354.78" y2="268.4" stroke="#000" stroke-width="1.35"/>
<line x1="382.34" y1="0.8" x2="382.34" y2="5.1" stroke="#000" stroke-width="1.35"/>
<line x1="382.34" y1="271.0" x2="382.34" y2="266.7" stroke="#000" stroke-width="1.35"/>
<text x="382.34" y="283.80" font-size="9.5" font-weight="bold" text-anchor="middle" >1000</text>
<line x1="409.90" y1="0.8" x2="409.90" y2="3.4000000000000004" stroke="#000" stroke-width="1.35"/>
<line x1="409.90" y1="271.0" x2="409.90" y2="268.4" stroke="#000" stroke-width="1.35"/>
<line x1="437.46" y1="0.8" x2="437.46" y2="5.1" stroke="#000" stroke-width="1.35"/>
<line x1="437.46" y1="271.0" x2="437.46" y2="266.7" stroke="#000" stroke-width="1.35"/>
<text x="437.46" y="283.80" font-size="9.5" font-weight="bold" text-anchor="middle" >1200</text>
<text x="360.50" y="297.20" font-size="9.5" font-weight="bold" text-anchor="middle" >Frequency (MHz)</text>
<text transform="translate(235.5,142) rotate(-90)" font-size="9.5" font-weight="bold" text-anchor="middle">S<tspan font-size="6.5" dy="2">11</tspan><tspan dy="-2"> (dB)</tspan></text>
<line x1="361.3" y1="58.5" x2="376.3" y2="58.5" stroke="#000" stroke-width="1.6"/>
<text x="381.30" y="61.90" font-size="9.5" font-weight="bold" text-anchor="start" >VWC = 5%</text>
<line x1="361.3" y1="125.4" x2="376.3" y2="125.4" stroke="#E6A014" stroke-width="1.6"/>
<text x="381.30" y="128.80" font-size="9.5" font-weight="bold" text-anchor="start" >VWC = 10%</text>
<line x1="361.3" y1="192.8" x2="376.3" y2="192.8" stroke="#CF79A8" stroke-width="1.6"/>
<text x="381.30" y="196.20" font-size="9.5" font-weight="bold" text-anchor="start" >VWC = 15%</text>
<line x1="361.3" y1="259.3" x2="376.3" y2="259.3" stroke="#1473B4" stroke-width="1.6"/>
<text x="381.30" y="262.70" font-size="9.5" font-weight="bold" text-anchor="start" >VWC = 20%</text>
<defs>
<clipPath id="clip_590_0"><rect x="487.0" y="0.8" width="196.79999999999995" height="67.60000000000001"/></clipPath>
<clipPath id="clip_590_1"><rect x="487.0" y="68.4" width="196.79999999999995" height="67.79999999999998"/></clipPath>
<clipPath id="clip_590_2"><rect x="487.0" y="136.2" width="196.79999999999995" height="67.4"/></clipPath>
<clipPath id="clip_590_3"><rect x="487.0" y="203.6" width="196.79999999999995" height="67.4"/></clipPath>
</defs>
<rect x="531.20" y="23.5" width="4.5" height="9.30" fill="#4CDA68"/>
<rect x="551.00" y="23.5" width="4.5" height="9.30" fill="#4CDA68"/>
<g transform="translate(522.5,29.8)">
<path d="M2,9 L20,13 L37.7,9 L36.4,30.5 Q36.4,34.0 33.5,34.3 Q30.5,34.5 29.8,33.4 Q28.5,35.3 20,35.3 Q11.5,35.3 10.2,33.4 Q9.5,34.5 6.5,34.3 Q3.6,34.0 3.6,30.5 Z" fill="#D4B4A2"/>
<path d="M20,13.3 L37.7,9 L36.4,30.5 Q36.4,34.0 33.5,34.3 Q30.5,34.5 29.8,33.4 Q28.5,35.3 20,35.3 Z" fill="#C9AA97"/>
<path d="M16.5,12.5 L20,13.3 L20,35.3 L16.5,35.2 Z" fill="#DCBEAC"/>
<path d="M0,3.8 L20,0 L39.7,3.8 L39.5,9.6 L20,13.6 L0.2,9.6 Z" fill="#DFC4B2"/>
<path d="M20,7.8 L39.7,3.8 L39.5,9.6 L20,13.6 Z" fill="#D3B5A3"/>
<path d="M3.2,3.9 L20,0.9 L36.6,3.9 L20,7.2 Z" fill="#7e7b69"/>
</g>
<path d="M531.20,32.30 l4.5,0 l0,8.00 l-2.25,2.2 l-2.25,-2.2 Z" fill="#5CC860" opacity="0.6"/>
<path d="M541.00,32.30 l3.6,0 l0,10.50 l-1.80,2.2 l-1.80,-2.2 Z" fill="#5CC860" opacity="0.6"/>
<path d="M551.00,32.30 l4.5,0 l0,8.00 l-2.25,2.2 l-2.25,-2.2 Z" fill="#5CC860" opacity="0.6"/>
<rect x="535.80" y="23.70" width="14" height="1.6" fill="#2b6f8f"/>
<ellipse cx="542.8" cy="23.4" rx="15.72" ry="4.25" fill="#142c40"/>
<ellipse cx="542.8" cy="21.5" rx="15.8" ry="4.25" fill="#5EE27C" stroke="#24503a" stroke-width="0.3"/>
<ellipse cx="542.8" cy="21.70" rx="12.64" ry="3.23" fill="none" stroke="#A09420" stroke-width="0.55"/>
<ellipse cx="542.8" cy="21.70" rx="11.06" ry="2.83" fill="none" stroke="#A09420" stroke-width="0.55"/>
<ellipse cx="542.8" cy="21.70" rx="9.48" ry="2.42" fill="none" stroke="#A09420" stroke-width="0.55"/>
<path d="M551.63,19.44 A12.48,3.19 0 0 1 551.63,23.96" fill="none" stroke="#E8D20A" stroke-width="0.8"/>
<path d="M533.97,19.44 A12.48,3.19 0 0 0 533.97,23.96" fill="none" stroke="#E8D20A" stroke-width="0.8"/>
<path d="M550.17,19.82 A10.43,2.66 0 0 1 550.17,23.58" fill="none" stroke="#E8D20A" stroke-width="0.8"/>
<path d="M535.43,19.82 A10.43,2.66 0 0 0 535.43,23.58" fill="none" stroke="#E8D20A" stroke-width="0.8"/>
<path d="M548.72,20.19 A8.37,2.14 0 0 1 548.72,23.21" fill="none" stroke="#E8D20A" stroke-width="0.8"/>
<path d="M536.88,20.19 A8.37,2.14 0 0 0 536.88,23.21" fill="none" stroke="#E8D20A" stroke-width="0.8"/>
<ellipse cx="542.8" cy="21.9" rx="7.74" ry="2.12" fill="#5EE27C"/>
<rect x="531.20" y="90.7" width="4.5" height="9.50" fill="#4CDA68"/>
<rect x="551.00" y="90.7" width="4.5" height="9.50" fill="#4CDA68"/>
<g transform="translate(522.5,97.2)">
<path d="M2,9 L20,13 L37.7,9 L36.4,30.5 Q36.4,34.0 33.5,34.3 Q30.5,34.5 29.8,33.4 Q28.5,35.3 20,35.3 Q11.5,35.3 10.2,33.4 Q9.5,34.5 6.5,34.3 Q3.6,34.0 3.6,30.5 Z" fill="#D4B4A2"/>
<path d="M20,13.3 L37.7,9 L36.4,30.5 Q36.4,34.0 33.5,34.3 Q30.5,34.5 29.8,33.4 Q28.5,35.3 20,35.3 Z" fill="#C9AA97"/>
<path d="M16.5,12.5 L20,13.3 L20,35.3 L16.5,35.2 Z" fill="#DCBEAC"/>
<path d="M0,3.8 L20,0 L39.7,3.8 L39.5,9.6 L20,13.6 L0.2,9.6 Z" fill="#DFC4B2"/>
<path d="M20,7.8 L39.7,3.8 L39.5,9.6 L20,13.6 Z" fill="#D3B5A3"/>
<path d="M3.2,3.9 L20,0.9 L36.6,3.9 L20,7.2 Z" fill="#7e7b69"/>
</g>
<path d="M531.20,99.70 l4.5,0 l0,8.00 l-2.25,2.2 l-2.25,-2.2 Z" fill="#5CC860" opacity="0.6"/>
<path d="M541.00,99.70 l3.6,0 l0,10.50 l-1.80,2.2 l-1.80,-2.2 Z" fill="#5CC860" opacity="0.6"/>
<path d="M551.00,99.70 l4.5,0 l0,8.00 l-2.25,2.2 l-2.25,-2.2 Z" fill="#5CC860" opacity="0.6"/>
<rect x="535.80" y="90.90" width="14" height="1.6" fill="#2b6f8f"/>
<ellipse cx="542.8" cy="90.60000000000001" rx="15.72" ry="4.25" fill="#142c40"/>
<ellipse cx="542.8" cy="88.7" rx="15.8" ry="4.25" fill="#5EE27C" stroke="#24503a" stroke-width="0.3"/>
<ellipse cx="542.8" cy="88.90" rx="12.64" ry="3.23" fill="none" stroke="#A09420" stroke-width="0.55"/>
<ellipse cx="542.8" cy="88.90" rx="11.06" ry="2.83" fill="none" stroke="#A09420" stroke-width="0.55"/>
<ellipse cx="542.8" cy="88.90" rx="9.48" ry="2.42" fill="none" stroke="#A09420" stroke-width="0.55"/>
<path d="M551.63,86.64 A12.48,3.19 0 0 1 551.63,91.16" fill="none" stroke="#E8D20A" stroke-width="0.8"/>
<path d="M533.97,86.64 A12.48,3.19 0 0 0 533.97,91.16" fill="none" stroke="#E8D20A" stroke-width="0.8"/>
<path d="M550.17,87.02 A10.43,2.66 0 0 1 550.17,90.78" fill="none" stroke="#E8D20A" stroke-width="0.8"/>
<path d="M535.43,87.02 A10.43,2.66 0 0 0 535.43,90.78" fill="none" stroke="#E8D20A" stroke-width="0.8"/>
<path d="M548.72,87.39 A8.37,2.14 0 0 1 548.72,90.41" fill="none" stroke="#E8D20A" stroke-width="0.8"/>
<path d="M536.88,87.39 A8.37,2.14 0 0 0 536.88,90.41" fill="none" stroke="#E8D20A" stroke-width="0.8"/>
<ellipse cx="542.8" cy="89.10000000000001" rx="7.74" ry="2.12" fill="#5EE27C"/>
<rect x="531.20" y="158.8" width="4.5" height="9.70" fill="#4CDA68"/>
<rect x="551.00" y="158.8" width="4.5" height="9.70" fill="#4CDA68"/>
<g transform="translate(522.5,165.5)">
<path d="M2,9 L20,13 L37.7,9 L36.4,30.5 Q36.4,34.0 33.5,34.3 Q30.5,34.5 29.8,33.4 Q28.5,35.3 20,35.3 Q11.5,35.3 10.2,33.4 Q9.5,34.5 6.5,34.3 Q3.6,34.0 3.6,30.5 Z" fill="#D4B4A2"/>
<path d="M20,13.3 L37.7,9 L36.4,30.5 Q36.4,34.0 33.5,34.3 Q30.5,34.5 29.8,33.4 Q28.5,35.3 20,35.3 Z" fill="#C9AA97"/>
<path d="M16.5,12.5 L20,13.3 L20,35.3 L16.5,35.2 Z" fill="#DCBEAC"/>
<path d="M0,3.8 L20,0 L39.7,3.8 L39.5,9.6 L20,13.6 L0.2,9.6 Z" fill="#DFC4B2"/>
<path d="M20,7.8 L39.7,3.8 L39.5,9.6 L20,13.6 Z" fill="#D3B5A3"/>
<path d="M3.2,3.9 L20,0.9 L36.6,3.9 L20,7.2 Z" fill="#7e7b69"/>
</g>
<path d="M531.20,168.00 l4.5,0 l0,8.00 l-2.25,2.2 l-2.25,-2.2 Z" fill="#5CC860" opacity="0.6"/>
<path d="M541.00,168.00 l3.6,0 l0,10.50 l-1.80,2.2 l-1.80,-2.2 Z" fill="#5CC860" opacity="0.6"/>
<path d="M551.00,168.00 l4.5,0 l0,8.00 l-2.25,2.2 l-2.25,-2.2 Z" fill="#5CC860" opacity="0.6"/>
<rect x="535.80" y="159.00" width="14" height="1.6" fill="#2b6f8f"/>
<ellipse cx="542.8" cy="158.70000000000002" rx="15.72" ry="4.25" fill="#142c40"/>
<ellipse cx="542.8" cy="156.8" rx="15.8" ry="4.25" fill="#5EE27C" stroke="#24503a" stroke-width="0.3"/>
<ellipse cx="542.8" cy="157.00" rx="12.64" ry="3.23" fill="none" stroke="#A09420" stroke-width="0.55"/>
<ellipse cx="542.8" cy="157.00" rx="11.06" ry="2.83" fill="none" stroke="#A09420" stroke-width="0.55"/>
<ellipse cx="542.8" cy="157.00" rx="9.48" ry="2.42" fill="none" stroke="#A09420" stroke-width="0.55"/>
<path d="M551.63,154.74 A12.48,3.19 0 0 1 551.63,159.26" fill="none" stroke="#E8D20A" stroke-width="0.8"/>
<path d="M533.97,154.74 A12.48,3.19 0 0 0 533.97,159.26" fill="none" stroke="#E8D20A" stroke-width="0.8"/>
<path d="M550.17,155.12 A10.43,2.66 0 0 1 550.17,158.88" fill="none" stroke="#E8D20A" stroke-width="0.8"/>
<path d="M535.43,155.12 A10.43,2.66 0 0 0 535.43,158.88" fill="none" stroke="#E8D20A" stroke-width="0.8"/>
<path d="M548.72,155.49 A8.37,2.14 0 0 1 548.72,158.51" fill="none" stroke="#E8D20A" stroke-width="0.8"/>
<path d="M536.88,155.49 A8.37,2.14 0 0 0 536.88,158.51" fill="none" stroke="#E8D20A" stroke-width="0.8"/>
<ellipse cx="542.8" cy="157.20000000000002" rx="7.74" ry="2.12" fill="#5EE27C"/>
<rect x="531.20" y="225.8" width="4.5" height="10.00" fill="#4CDA68"/>
<rect x="551.00" y="225.8" width="4.5" height="10.00" fill="#4CDA68"/>
<g transform="translate(522.5,232.8)">
<path d="M2,9 L20,13 L37.7,9 L36.4,30.5 Q36.4,34.0 33.5,34.3 Q30.5,34.5 29.8,33.4 Q28.5,35.3 20,35.3 Q11.5,35.3 10.2,33.4 Q9.5,34.5 6.5,34.3 Q3.6,34.0 3.6,30.5 Z" fill="#D4B4A2"/>
<path d="M20,13.3 L37.7,9 L36.4,30.5 Q36.4,34.0 33.5,34.3 Q30.5,34.5 29.8,33.4 Q28.5,35.3 20,35.3 Z" fill="#C9AA97"/>
<path d="M16.5,12.5 L20,13.3 L20,35.3 L16.5,35.2 Z" fill="#DCBEAC"/>
<path d="M0,3.8 L20,0 L39.7,3.8 L39.5,9.6 L20,13.6 L0.2,9.6 Z" fill="#DFC4B2"/>
<path d="M20,7.8 L39.7,3.8 L39.5,9.6 L20,13.6 Z" fill="#D3B5A3"/>
<path d="M3.2,3.9 L20,0.9 L36.6,3.9 L20,7.2 Z" fill="#7e7b69"/>
</g>
<path d="M531.20,235.30 l4.5,0 l0,8.00 l-2.25,2.2 l-2.25,-2.2 Z" fill="#5CC860" opacity="0.6"/>
<path d="M541.00,235.30 l3.6,0 l0,10.50 l-1.80,2.2 l-1.80,-2.2 Z" fill="#5CC860" opacity="0.6"/>
<path d="M551.00,235.30 l4.5,0 l0,8.00 l-2.25,2.2 l-2.25,-2.2 Z" fill="#5CC860" opacity="0.6"/>
<rect x="535.80" y="226.00" width="14" height="1.6" fill="#2b6f8f"/>
<ellipse cx="542.8" cy="225.70000000000002" rx="15.72" ry="4.25" fill="#142c40"/>
<ellipse cx="542.8" cy="223.8" rx="15.8" ry="4.25" fill="#5EE27C" stroke="#24503a" stroke-width="0.3"/>
<ellipse cx="542.8" cy="224.00" rx="12.64" ry="3.23" fill="none" stroke="#A09420" stroke-width="0.55"/>
<ellipse cx="542.8" cy="224.00" rx="11.06" ry="2.83" fill="none" stroke="#A09420" stroke-width="0.55"/>
<ellipse cx="542.8" cy="224.00" rx="9.48" ry="2.42" fill="none" stroke="#A09420" stroke-width="0.55"/>
<path d="M551.63,221.74 A12.48,3.19 0 0 1 551.63,226.26" fill="none" stroke="#E8D20A" stroke-width="0.8"/>
<path d="M533.97,221.74 A12.48,3.19 0 0 0 533.97,226.26" fill="none" stroke="#E8D20A" stroke-width="0.8"/>
<path d="M550.17,222.12 A10.43,2.66 0 0 1 550.17,225.88" fill="none" stroke="#E8D20A" stroke-width="0.8"/>
<path d="M535.43,222.12 A10.43,2.66 0 0 0 535.43,225.88" fill="none" stroke="#E8D20A" stroke-width="0.8"/>
<path d="M548.72,222.49 A8.37,2.14 0 0 1 548.72,225.51" fill="none" stroke="#E8D20A" stroke-width="0.8"/>
<path d="M536.88,222.49 A8.37,2.14 0 0 0 536.88,225.51" fill="none" stroke="#E8D20A" stroke-width="0.8"/>
<ellipse cx="542.8" cy="224.20000000000002" rx="7.74" ry="2.12" fill="#5EE27C"/>
<rect x="502.0" y="0.8" width="24.80" height="270.2" fill="#F0DCD0" style="mix-blend-mode:multiply"/>
<rect x="562.2" y="0.8" width="24.20" height="270.2" fill="#CDCDFA" style="mix-blend-mode:multiply"/>
<rect x="619.7" y="0.8" width="24.10" height="270.2" fill="#C8EBDA" style="mix-blend-mode:multiply"/>
<line x1="514.6" y1="0.8" x2="514.6" y2="271.0" stroke="#747474" stroke-width="1.2" stroke-dasharray="2.8,1.7"/>
<line x1="573.8" y1="0.8" x2="573.8" y2="271.0" stroke="#747474" stroke-width="1.2" stroke-dasharray="2.8,1.7"/>
<line x1="631.6" y1="0.8" x2="631.6" y2="271.0" stroke="#747474" stroke-width="1.2" stroke-dasharray="2.8,1.7"/>
<polyline points="487.0,10.2 487.5,10.3 488.0,10.2 488.5,10.1 489.0,10.1 489.5,10.2 490.0,10.3 490.5,10.4 491.0,10.5 491.5,10.5 492.0,10.4 492.5,10.3 493.0,10.4 493.5,10.4 494.0,10.4 494.5,10.4 495.0,10.2 495.5,10.1 496.0,10.1 496.5,10.1 497.0,10.2 497.5,10.3 498.0,10.3 498.5,10.2 499.0,10.2 499.5,10.3 500.0,10.4 500.5,10.5 501.0,10.5 501.5,10.5 502.0,10.4 502.5,10.3 503.0,10.3 503.5,10.3 504.0,10.3 504.5,10.3 505.0,10.1 505.5,10.1 506.0,10.1 506.5,10.2 507.0,10.3 507.5,10.4 508.0,10.5 508.5,10.7 509.0,11.2 509.5,12.3 510.0,14.1 510.5,17.0 511.0,21.1 511.5,26.3 512.0,32.4 512.5,38.6 513.0,43.7 513.5,46.7 514.0,46.7 514.5,43.8 515.0,38.7 515.5,32.5 516.0,26.3 516.5,21.0 517.0,17.0 517.5,14.2 518.0,12.4 518.5,11.3 519.0,10.8 519.5,10.6 520.1,10.5 520.6,10.5 521.1,10.4 521.6,10.3 522.1,10.1 522.6,10.1 523.1,10.2 523.6,10.2 524.1,10.3 524.6,10.2 525.1,10.2 525.6,10.2 526.1,10.3 526.6,10.4 527.1,10.5 527.6,10.5 528.1,10.4 528.6,10.4 529.1,10.3 529.6,10.4 530.1,10.4 530.6,10.4 531.1,10.3 531.6,10.1 532.1,10.1 532.6,10.1 533.1,10.2 533.6,10.3 534.1,10.3 534.6,10.3 535.1,10.3 535.6,10.3 536.1,10.4 536.6,10.5 537.1,10.5 537.6,10.5 538.1,10.4 538.6,10.3 539.1,10.2 539.6,10.3 540.1,10.3 540.6,10.3 541.1,10.2 541.6,10.1 542.1,10.1 542.6,10.1 543.1,10.3 543.6,10.4 544.1,10.4 544.6,10.4 545.1,10.3 545.6,10.3 546.1,10.4 546.6,10.5 547.1,10.5 547.6,10.4 548.1,10.3 548.6,10.2 549.1,10.1 549.6,10.2 550.1,10.2 550.6,10.2 551.1,10.2 551.6,10.1 552.1,10.1 552.6,10.2 553.1,10.4 553.6,10.5 554.1,10.5 554.6,10.4 555.1,10.4 555.6,10.4 556.1,10.4 556.6,10.4 557.1,10.4 557.6,10.3 558.1,10.2 558.6,10.1 559.1,10.1 559.6,10.2 560.1,10.3 560.6,10.3 561.1,10.2 561.6,10.2 562.1,10.2 562.6,10.4 563.1,10.5 563.6,10.5 564.1,10.5 564.6,10.4 565.1,10.4 565.6,10.4 566.1,10.6 566.6,10.9 567.1,11.4 567.6,12.3 568.1,13.7 568.6,16.2 569.1,20.0 569.6,25.2 570.1,31.8 570.6,39.7 571.1,48.5 571.6,57.3 572.1,65.4 572.6,71.6 573.1,75.0 573.6,75.2 574.1,71.9 574.6,65.9 575.1,57.9 575.6,49.0 576.1,40.2 576.6,32.3 577.1,25.6 577.6,20.3 578.1,16.5 578.6,13.9 579.1,12.4 579.6,11.5 580.1,11.0 580.6,10.7 581.1,10.5 581.6,10.4 582.1,10.4 582.6,10.5 583.1,10.5 583.6,10.5 584.1,10.4 584.6,10.4 585.1,10.4 585.7,10.7 586.2,11.1 586.7,11.6 587.2,11.9 587.7,12.1 588.2,12.1 588.7,12.0 589.2,11.8 589.7,11.6 590.2,11.2 590.7,10.9 591.2,10.6 591.7,10.4 592.2,10.4 592.7,10.4 593.2,10.4 593.7,10.3 594.2,10.2 594.7,10.1 595.2,10.1 595.7,10.1 596.2,10.2 596.7,10.3 597.2,10.3 597.7,10.3 598.2,10.3 598.7,10.3 599.2,10.4 599.7,10.5 600.2,10.5 600.7,10.5 601.2,10.3 601.7,10.3 602.2,10.3 602.7,10.3 603.2,10.3 603.7,10.4 604.2,10.4 604.7,10.6 605.2,11.1 605.7,11.6 606.2,12.1 606.7,12.2 607.2,11.9 607.7,11.5 608.2,11.1 608.7,10.9 609.2,11.0 609.7,11.3 610.2,11.7 610.7,12.1 611.2,12.3 611.7,12.3 612.2,12.0 612.7,11.6 613.2,11.1 613.7,10.6 614.2,10.3 614.7,10.2 615.2,10.2 615.7,10.3 616.2,10.4 616.7,10.5 617.2,10.5 617.7,10.4 618.2,10.4 618.7,10.4 619.2,10.5 619.7,10.5 620.2,10.5 620.7,10.5 621.2,10.5 621.7,10.7 622.2,11.1 622.7,11.6 623.2,12.2 623.7,13.0 624.2,14.0 624.7,15.3 625.2,17.1 625.7,19.2 626.2,21.6 626.7,24.3 627.2,27.1 627.7,30.1 628.2,33.2 628.7,36.4 629.2,39.3 629.7,41.9 630.2,43.8 630.7,45.1 631.2,45.8 631.7,45.5 632.2,43.7 632.7,40.4 633.2,36.1 633.7,31.3 634.2,26.7 634.7,22.5 635.2,19.2 635.7,16.8 636.2,15.0 636.7,13.8 637.2,12.9 637.7,12.4 638.2,12.2 638.7,12.2 639.2,12.3 639.7,12.4 640.2,12.4 640.7,12.3 641.2,12.4 641.7,12.5 642.2,12.7 642.7,12.8 643.2,12.9 643.7,12.8 644.2,12.8 644.7,12.7 645.2,12.8 645.7,12.9 646.2,12.9 646.7,12.8 647.2,12.6 647.7,12.5 648.2,12.5 648.7,12.5 649.2,12.6 649.7,12.6 650.2,12.5 650.7,12.5 651.3,12.5 651.8,12.6 652.3,12.7 652.8,12.8 653.3,12.8 653.8,12.7 654.3,12.6 654.8,12.5 655.3,12.5 655.8,12.6 656.3,12.5 656.8,12.4 657.3,12.2 657.8,12.1 658.3,12.2 658.8,12.2 659.3,12.3 659.8,12.3 660.3,12.3 660.8,12.2 661.3,12.2 661.8,12.3 662.3,12.4 662.8,12.4 663.3,12.3 663.8,12.2 664.3,12.1 664.8,12.0 665.3,12.0 665.8,12.0 666.3,12.0 666.8,11.9 667.3,11.7 667.8,11.7 668.3,11.7 668.8,11.8 669.3,11.9 669.8,11.9 670.3,11.9 670.8,11.8 671.3,11.8 671.8,11.8 672.3,11.9 672.8,11.9 673.3,11.8 673.8,11.6 674.3,11.5 674.8,11.4 675.3,11.4 675.8,11.5 676.3,11.4 676.8,11.3 677.3,11.2 677.8,11.2 678.3,11.3 678.8,11.4 679.3,11.5 679.8,11.5 680.3,11.4 680.8,11.3 681.3,11.3 681.8,11.3 682.3,11.3 682.8,11.3 683.3,11.1 683.8,11.0" fill="none" stroke="#000" stroke-width="1.7" stroke-linejoin="round" clip-path="url(#clip_590_0)"/>
<polyline points="487.0,77.8 487.5,77.8 488.0,77.8 488.5,77.8 489.0,77.7 489.5,77.7 490.0,77.8 490.5,78.0 491.0,78.1 491.5,78.1 492.0,78.0 492.5,78.0 493.0,78.0 493.5,78.0 494.0,78.1 494.5,78.0 495.0,77.9 495.5,77.8 496.0,77.7 496.5,77.7 497.0,77.8 497.5,77.9 498.0,77.9 498.5,77.8 499.0,77.8 499.5,77.8 500.0,77.9 500.5,78.1 501.0,78.1 501.5,78.1 502.0,78.0 502.5,77.9 503.0,77.9 503.5,77.9 504.0,78.0 504.5,77.9 505.0,77.8 505.5,77.7 506.0,77.7 506.5,77.8 507.0,77.9 507.5,78.2 508.0,78.5 508.5,79.0 509.0,79.9 509.5,81.4 510.0,83.8 510.5,87.1 511.0,91.2 511.5,96.0 512.0,101.0 512.5,105.7 513.0,109.4 513.5,111.6 514.0,111.6 514.5,109.6 515.0,105.8 515.5,100.9 516.0,95.8 516.5,91.1 517.0,87.0 517.5,83.9 518.0,81.6 518.5,80.0 519.0,79.0 519.5,78.5 520.1,78.3 520.6,78.2 521.1,78.1 521.6,78.0 522.1,77.8 522.6,77.7 523.1,77.7 523.6,77.8 524.1,77.8 524.6,77.8 525.1,77.8 525.6,77.7 526.1,77.8 526.6,77.9 527.1,78.1 527.6,78.1 528.1,78.1 528.6,78.0 529.1,77.9 529.6,77.9 530.1,78.0 530.6,78.0 531.1,77.9 531.6,77.8 532.1,77.7 532.6,77.7 533.1,77.7 533.6,77.8 534.1,77.9 534.6,77.9 535.1,77.9 535.6,77.8 536.1,77.9 536.6,78.0 537.1,78.1 537.6,78.1 538.1,78.1 538.6,77.9 539.1,77.9 539.6,77.9 540.1,77.9 540.6,77.9 541.1,77.9 541.6,77.7 542.1,77.7 542.6,77.7 543.1,77.8 543.6,77.9 544.1,78.0 544.6,78.0 545.1,77.9 545.6,77.9 546.1,78.0 546.6,78.1 547.1,78.1 547.6,78.1 548.1,78.0 548.6,77.8 549.1,77.8 549.6,77.8 550.1,77.8 550.6,77.9 551.1,77.8 551.6,77.7 552.1,77.7 552.6,77.8 553.1,77.9 553.6,78.0 554.1,78.1 554.6,78.1 555.1,78.0 555.6,77.9 556.1,78.0 556.6,78.0 557.1,78.1 557.6,78.0 558.1,77.8 558.6,77.7 559.1,77.7 559.6,77.7 560.1,77.8 560.6,77.9 561.1,77.8 561.6,77.8 562.1,77.8 562.6,77.9 563.1,78.0 563.6,78.1 564.1,78.1 564.6,78.1 565.1,78.0 565.6,78.0 566.1,78.2 566.6,78.5 567.1,79.1 567.6,79.9 568.1,81.4 568.6,83.8 569.1,87.5 569.6,92.7 570.1,99.4 570.6,107.3 571.1,116.1 571.6,124.9 572.1,132.9 572.6,139.1 573.1,142.6 573.6,142.8 574.1,139.6 574.6,133.5 575.1,125.5 575.6,116.6 576.1,107.8 576.6,99.9 577.1,93.2 577.6,88.0 578.1,84.1 578.6,81.5 579.1,79.9 579.6,79.0 580.1,78.6 580.6,78.3 581.1,78.1 581.6,78.0 582.1,78.0 582.6,78.0 583.1,78.1 583.6,78.1 584.1,78.0 584.6,77.9 585.1,77.7 585.7,77.7 586.2,77.8 586.7,77.8 587.2,77.8 587.7,77.8 588.2,77.8 588.7,77.8 589.2,77.9 589.7,78.0 590.2,78.1 590.7,78.1 591.2,78.0 591.7,78.0 592.2,77.9 592.7,78.0 593.2,78.0 593.7,78.0 594.2,77.9 594.7,77.8 595.2,77.7 595.7,77.7 596.2,77.8 596.7,77.9 597.2,77.9 597.7,77.9 598.2,77.8 598.7,77.9 599.2,78.0 599.7,78.1 600.2,78.1 600.7,78.1 601.2,78.0 601.7,77.9 602.2,77.9 602.7,77.9 603.2,77.9 603.7,77.9 604.2,77.8 604.7,77.7 605.2,77.7 605.7,77.7 606.2,77.8 606.7,78.0 607.2,78.0 607.7,78.0 608.2,77.9 608.7,77.9 609.2,78.0 609.7,78.1 610.2,78.1 610.7,78.0 611.2,77.9 611.7,77.8 612.2,77.8 612.7,77.8 613.2,77.8 613.7,77.8 614.2,77.8 614.7,77.7 615.2,77.7 615.7,77.8 616.2,78.0 616.7,78.1 617.2,78.1 617.7,78.0 618.2,78.0 618.7,78.0 619.2,78.0 619.7,78.1 620.2,78.0 620.7,77.9 621.2,77.8 621.7,77.8 622.2,77.8 622.7,78.0 623.2,78.2 623.7,78.5 624.2,78.9 624.7,79.6 625.2,80.6 625.7,82.1 626.2,84.1 626.7,86.5 627.2,89.3 627.7,92.6 628.2,96.3 628.7,100.2 629.2,104.1 629.7,107.7 630.2,110.5 630.7,112.3 631.2,113.0 631.7,112.5 632.2,110.9 632.7,108.2 633.2,104.8 633.7,100.8 634.2,96.7 634.7,92.7 635.2,89.2 635.7,86.3 636.2,84.0 636.7,82.1 637.2,80.7 637.7,79.6 638.2,78.8 638.7,78.4 639.2,78.2 639.7,78.1 640.2,77.9 640.7,77.8 641.2,77.7 641.7,77.7 642.2,77.8 642.7,77.9 643.2,78.0 643.7,78.0 644.2,78.0 644.7,77.9 645.2,78.0 645.7,78.0 646.2,78.1 646.7,78.1 647.2,77.9 647.7,77.8 648.2,77.7 648.7,77.7 649.2,77.8 649.7,77.8 650.2,77.8 650.7,77.8 651.3,77.7 651.8,77.8 652.3,77.9 652.8,78.1 653.3,78.1 653.8,78.1 654.3,78.0 654.8,77.9 655.3,77.9 655.8,78.0 656.3,78.0 656.8,77.9 657.3,77.8 657.8,77.7 658.3,77.7 658.8,77.7 659.3,77.8 659.8,77.9 660.3,77.9 660.8,77.9 661.3,77.8 661.8,77.9 662.3,78.0 662.8,78.1 663.3,78.1 663.8,78.1 664.3,77.9 664.8,77.9 665.3,77.9 665.8,77.9 666.3,77.9 666.8,77.8 667.3,77.7 667.8,77.7 668.3,77.7 668.8,77.8 669.3,77.9 669.8,78.0 670.3,78.0 670.8,77.9 671.3,77.9 671.8,78.0 672.3,78.1 672.8,78.1 673.3,78.1 673.8,78.0 674.3,77.8 674.8,77.8 675.3,77.8 675.8,77.8 676.3,77.9 676.8,77.8 677.3,77.7 677.8,77.7 678.3,77.8 678.8,77.9 679.3,78.0 679.8,78.1 680.3,78.1 680.8,78.0 681.3,77.9 681.8,78.0 682.3,78.0 682.8,78.1 683.3,78.0 683.8,77.8" fill="none" stroke="#E6A014" stroke-width="1.7" stroke-linejoin="round" clip-path="url(#clip_590_1)"/>
<polyline points="487.0,145.3 487.5,145.3 488.0,145.3 488.5,145.3 489.0,145.5 489.5,145.6 490.0,145.6 490.5,145.6 491.0,145.5 491.5,145.4 492.0,145.5 492.5,145.5 493.0,145.5 493.5,145.4 494.0,145.3 494.5,145.2 495.0,145.2 495.5,145.3 496.0,145.4 496.5,145.4 497.0,145.4 497.5,145.3 498.0,145.4 498.5,145.5 499.0,145.6 499.5,145.6 500.0,145.6 500.5,145.5 501.0,145.4 501.5,145.4 502.0,145.4 502.5,145.4 503.0,145.4 503.5,145.3 504.0,145.2 504.5,145.2 505.0,145.2 505.5,145.4 506.0,145.5 506.5,145.6 507.0,145.7 507.5,145.9 508.0,146.3 508.5,147.1 509.0,148.3 509.5,150.1 510.0,152.5 510.5,155.5 511.0,159.1 511.5,163.3 512.0,167.4 512.5,171.0 513.0,173.5 513.5,174.5 514.0,173.8 514.5,171.6 515.0,168.4 515.5,164.5 516.0,160.4 516.5,156.5 517.0,153.1 517.5,150.5 518.0,148.6 518.5,147.3 519.0,146.6 519.5,146.1 520.1,145.7 520.6,145.4 521.1,145.2 521.6,145.2 522.1,145.3 522.6,145.4 523.1,145.4 523.6,145.3 524.1,145.3 524.6,145.3 525.1,145.4 525.6,145.6 526.1,145.6 526.6,145.6 527.1,145.5 527.6,145.4 528.1,145.4 528.6,145.4 529.1,145.5 529.6,145.4 530.1,145.3 530.6,145.2 531.1,145.2 531.6,145.2 532.1,145.3 532.6,145.4 533.1,145.4 533.6,145.4 534.1,145.4 534.6,145.4 535.1,145.5 535.6,145.6 536.1,145.6 536.6,145.6 537.1,145.4 537.6,145.3 538.1,145.3 538.6,145.3 539.1,145.4 539.6,145.3 540.1,145.3 540.6,145.2 541.1,145.2 541.6,145.3 542.1,145.4 542.6,145.5 543.1,145.5 543.6,145.5 544.1,145.4 544.6,145.5 545.1,145.5 545.6,145.6 546.1,145.6 546.6,145.4 547.1,145.3 547.6,145.2 548.1,145.2 548.6,145.3 549.1,145.3 549.6,145.3 550.1,145.3 550.6,145.2 551.1,145.3 551.6,145.4 552.1,145.6 552.6,145.6 553.1,145.6 553.6,145.5 554.1,145.4 554.6,145.4 555.1,145.5 555.6,145.5 556.1,145.5 556.6,145.3 557.1,145.2 557.6,145.2 558.1,145.2 558.6,145.3 559.1,145.4 559.6,145.4 560.1,145.4 560.6,145.3 561.1,145.4 561.6,145.5 562.1,145.6 562.6,145.6 563.1,145.6 563.6,145.5 564.1,145.4 564.6,145.4 565.1,145.5 565.6,145.6 566.1,145.7 566.6,146.0 567.1,146.5 567.6,147.5 568.1,149.3 568.6,152.0 569.1,155.6 569.6,160.5 570.1,166.6 570.6,173.9 571.1,181.9 571.6,190.1 572.1,197.5 572.6,203.3 573.1,206.7 573.6,207.2 574.1,205.0 574.6,200.2 575.1,193.5 575.6,185.6 576.1,177.5 576.6,169.7 577.1,163.0 577.6,157.5 578.1,153.5 578.6,150.6 579.1,148.7 579.6,147.3 580.1,146.4 580.6,145.9 581.1,145.7 581.6,145.7 582.1,145.6 582.6,145.5 583.1,145.4 583.6,145.2 584.1,145.2 584.6,145.2 585.1,145.3 585.7,145.4 586.2,145.4 586.7,145.3 587.2,145.3 587.7,145.4 588.2,145.5 588.7,145.6 589.2,145.6 589.7,145.6 590.2,145.5 590.7,145.4 591.2,145.4 591.7,145.4 592.2,145.4 592.7,145.4 593.2,145.2 593.7,145.2 594.2,145.2 594.7,145.3 595.2,145.4 595.7,145.4 596.2,145.4 596.7,145.4 597.2,145.4 597.7,145.5 598.2,145.6 598.7,145.6 599.2,145.6 599.7,145.5 600.2,145.4 600.7,145.3 601.2,145.3 601.7,145.4 602.2,145.4 602.7,145.3 603.2,145.2 603.7,145.2 604.2,145.2 604.7,145.4 605.2,145.5 605.7,145.5 606.2,145.5 606.7,145.5 607.2,145.5 607.7,145.5 608.2,145.6 608.7,145.6 609.2,145.5 609.7,145.4 610.2,145.2 610.7,145.2 611.2,145.3 611.7,145.3 612.2,145.4 612.7,145.3 613.2,145.3 613.7,145.3 614.2,145.4 614.7,145.5 615.2,145.6 615.7,145.6 616.2,145.5 616.7,145.5 617.2,145.4 617.7,145.5 618.2,145.5 618.7,145.5 619.2,145.4 619.7,145.3 620.2,145.2 620.7,145.2 621.2,145.3 621.7,145.5 622.2,145.6 622.7,145.7 623.2,145.8 623.7,146.2 624.2,146.7 624.7,147.5 625.2,148.5 625.7,149.8 626.2,151.3 626.7,153.3 627.2,155.8 627.7,158.7 628.2,162.0 628.7,165.4 629.2,168.7 629.7,171.8 630.2,174.4 630.7,176.5 631.2,177.9 631.7,178.2 632.2,177.4 632.7,175.6 633.2,172.8 633.7,169.5 634.2,166.0 634.7,162.4 635.2,158.9 635.7,155.7 636.2,152.9 636.7,150.7 637.2,149.0 637.7,147.8 638.2,147.0 638.7,146.3 639.2,145.9 639.7,145.6 640.2,145.4 640.7,145.4 641.2,145.5 641.7,145.6 642.2,145.6 642.7,145.5 643.2,145.5 643.7,145.5 644.2,145.5 644.7,145.6 645.2,145.5 645.7,145.4 646.2,145.3 646.7,145.2 647.2,145.2 647.7,145.3 648.2,145.4 648.7,145.4 649.2,145.3 649.7,145.3 650.2,145.3 650.7,145.4 651.3,145.6 651.8,145.6 652.3,145.6 652.8,145.5 653.3,145.4 653.8,145.4 654.3,145.4 654.8,145.5 655.3,145.4 655.8,145.3 656.3,145.2 656.8,145.2 657.3,145.2 657.8,145.3 658.3,145.4 658.8,145.4 659.3,145.4 659.8,145.4 660.3,145.4 660.8,145.5 661.3,145.6 661.8,145.6 662.3,145.6 662.8,145.4 663.3,145.3 663.8,145.3 664.3,145.3 664.8,145.4 665.3,145.3 665.8,145.3 666.3,145.2 666.8,145.2 667.3,145.3 667.8,145.4 668.3,145.5 668.8,145.5 669.3,145.5 669.8,145.4 670.3,145.5 670.8,145.5 671.3,145.6 671.8,145.6 672.3,145.4 672.8,145.3 673.3,145.2 673.8,145.2 674.3,145.3 674.8,145.3 675.3,145.3 675.8,145.3 676.3,145.2 676.8,145.3 677.3,145.4 677.8,145.6 678.3,145.6 678.8,145.6 679.3,145.5 679.8,145.4 680.3,145.4 680.8,145.5 681.3,145.5 681.8,145.4 682.3,145.3 682.8,145.2 683.3,145.2 683.8,145.2" fill="none" stroke="#CF79A8" stroke-width="1.7" stroke-linejoin="round" clip-path="url(#clip_590_2)"/>
<polyline points="487.0,212.9 487.5,213.0 488.0,213.1 488.5,213.2 489.0,213.2 489.5,213.1 490.0,213.0 490.5,213.0 491.0,213.0 491.5,213.1 492.0,213.0 492.5,212.9 493.0,212.8 493.5,212.8 494.0,212.8 494.5,212.9 495.0,213.0 495.5,213.0 496.0,213.0 496.5,213.0 497.0,213.0 497.5,213.1 498.0,213.2 498.5,213.2 499.0,213.2 499.5,213.1 500.0,212.9 500.5,212.9 501.0,212.9 501.5,213.0 502.0,213.0 502.5,212.9 503.0,212.8 503.5,212.8 504.0,212.9 504.5,213.0 505.0,213.2 505.5,213.3 506.0,213.3 506.5,213.5 507.0,213.8 507.5,214.4 508.0,215.3 508.5,216.5 509.0,218.1 509.5,220.1 510.0,222.6 510.5,225.7 511.0,229.0 511.5,232.3 512.0,235.2 512.5,237.5 513.0,238.7 513.5,239.0 514.0,238.3 514.5,236.5 515.0,233.9 515.5,230.8 516.0,227.4 516.5,224.2 517.0,221.3 517.5,219.0 518.0,217.1 518.5,215.7 519.0,214.6 519.5,213.8 520.1,213.3 520.6,213.1 521.1,213.1 521.6,213.1 522.1,213.0 522.6,213.0 523.1,212.9 523.6,213.0 524.1,213.1 524.6,213.2 525.1,213.2 525.6,213.2 526.1,213.1 526.6,213.0 527.1,213.0 527.6,213.0 528.1,213.0 528.6,213.0 529.1,212.9 529.6,212.8 530.1,212.8 530.6,212.8 531.1,213.0 531.6,213.1 532.1,213.1 532.6,213.0 533.1,213.0 533.6,213.1 534.1,213.1 534.6,213.2 535.1,213.2 535.6,213.1 536.1,213.0 536.6,212.9 537.1,212.9 537.6,212.9 538.1,213.0 538.6,212.9 539.1,212.9 539.6,212.8 540.1,212.8 540.6,213.0 541.1,213.1 541.6,213.2 542.1,213.2 542.6,213.1 543.1,213.1 543.6,213.1 544.1,213.1 544.6,213.2 545.1,213.1 545.6,213.0 546.1,212.8 546.6,212.8 547.1,212.8 547.6,212.9 548.1,213.0 548.6,213.0 549.1,212.9 549.6,212.9 550.1,212.9 550.6,213.1 551.1,213.2 551.6,213.2 552.1,213.2 552.6,213.1 553.1,213.0 553.6,213.0 554.1,213.1 554.6,213.1 555.1,213.0 555.6,212.9 556.1,212.8 556.6,212.8 557.1,212.8 557.6,213.0 558.1,213.0 558.6,213.0 559.1,213.0 559.6,213.0 560.1,213.0 560.6,213.2 561.1,213.2 561.6,213.2 562.1,213.1 562.6,213.0 563.1,212.9 563.6,212.9 564.1,213.0 564.6,213.1 565.1,213.1 565.6,213.3 566.1,213.5 566.6,214.2 567.1,215.2 567.6,216.8 568.1,219.0 568.6,221.8 569.1,225.6 569.6,230.3 570.1,236.0 570.6,242.4 571.1,248.9 571.6,255.2 572.1,260.5 572.6,264.4 573.1,266.5 573.6,266.6 574.1,264.6 574.6,260.8 575.1,255.4 575.6,249.1 576.1,242.5 576.6,236.3 577.1,230.7 577.6,226.0 578.1,222.2 578.6,219.2 579.1,216.9 579.6,215.4 580.1,214.5 580.6,213.9 581.1,213.6 581.6,213.3 582.1,213.0 582.6,212.8 583.1,212.8 583.6,212.9 584.1,212.9 584.6,213.0 585.1,213.0 585.7,212.9 586.2,212.9 586.7,213.0 587.2,213.2 587.7,213.2 588.2,213.2 588.7,213.1 589.2,213.0 589.7,213.0 590.2,213.0 590.7,213.0 591.2,213.0 591.7,212.9 592.2,212.8 592.7,212.8 593.2,212.8 593.7,212.9 594.2,213.0 594.7,213.1 595.2,213.1 595.7,213.0 596.2,213.0 596.7,213.1 597.2,213.2 597.7,213.2 598.2,213.2 598.7,213.0 599.2,212.9 599.7,212.9 600.2,212.9 600.7,212.9 601.2,212.9 601.7,212.9 602.2,212.8 602.7,212.8 603.2,212.9 603.7,213.0 604.2,213.1 604.7,213.2 605.2,213.1 605.7,213.1 606.2,213.1 606.7,213.1 607.2,213.2 607.7,213.1 608.2,213.0 608.7,212.9 609.2,212.8 609.7,212.8 610.2,212.9 610.7,212.9 611.2,213.0 611.7,212.9 612.2,212.9 612.7,212.9 613.2,213.0 613.7,213.1 614.2,213.2 614.7,213.2 615.2,213.1 615.7,213.0 616.2,213.0 616.7,213.0 617.2,213.1 617.7,213.0 618.2,212.9 618.7,212.8 619.2,212.8 619.7,212.9 620.2,213.0 620.7,213.2 621.2,213.3 621.7,213.4 622.2,213.6 622.7,214.0 623.2,214.5 623.7,215.3 624.2,216.1 624.7,217.2 625.2,218.4 625.7,219.9 626.2,221.8 626.7,224.1 627.2,226.5 627.7,229.1 628.2,231.7 628.7,234.3 629.2,236.7 629.7,238.9 630.2,240.7 630.7,241.9 631.2,242.3 631.7,242.0 632.2,240.9 632.7,239.2 633.2,236.9 633.7,234.3 634.2,231.3 634.7,228.3 635.2,225.3 635.7,222.7 636.2,220.4 636.7,218.6 637.2,217.1 637.7,215.9 638.2,214.9 638.7,214.2 639.2,213.8 639.7,213.5 640.2,213.5 640.7,213.4 641.2,213.3 641.7,213.2 642.2,213.1 642.7,213.1 643.2,213.1 643.7,213.1 644.2,213.1 644.7,213.0 645.2,212.8 645.7,212.8 646.2,212.8 646.7,212.9 647.2,213.0 647.7,213.0 648.2,213.0 648.7,212.9 649.2,213.0 649.7,213.1 650.2,213.2 650.7,213.2 651.3,213.2 651.8,213.1 652.3,213.0 652.8,213.0 653.3,213.0 653.8,213.0 654.3,213.0 654.8,212.9 655.3,212.8 655.8,212.8 656.3,212.9 656.8,213.0 657.3,213.1 657.8,213.1 658.3,213.0 658.8,213.0 659.3,213.1 659.8,213.2 660.3,213.2 660.8,213.2 661.3,213.1 661.8,213.0 662.3,212.9 662.8,212.9 663.3,212.9 663.8,213.0 664.3,212.9 664.8,212.8 665.3,212.8 665.8,212.8 666.3,213.0 666.8,213.1 667.3,213.2 667.8,213.2 668.3,213.1 668.8,213.1 669.3,213.1 669.8,213.1 670.3,213.2 670.8,213.1 671.3,213.0 671.8,212.8 672.3,212.8 672.8,212.8 673.3,212.9 673.8,213.0 674.3,213.0 674.8,212.9 675.3,212.9 675.8,213.0 676.3,213.1 676.8,213.2 677.3,213.2 677.8,213.2 678.3,213.1 678.8,213.0 679.3,213.0 679.8,213.1 680.3,213.1 680.8,213.0 681.3,212.9 681.8,212.8 682.3,212.8 682.8,212.8 683.3,213.0 683.8,213.0" fill="none" stroke="#1473B4" stroke-width="1.7" stroke-linejoin="round" clip-path="url(#clip_590_3)"/>
<rect x="487.0" y="0.8" width="196.80" height="270.20" fill="none" stroke="#000" stroke-width="1.6"/>
<line x1="487.0" y1="68.4" x2="683.8" y2="68.4" stroke="#000" stroke-width="1.4"/>
<line x1="487.0" y1="136.2" x2="683.8" y2="136.2" stroke="#000" stroke-width="1.4"/>
<line x1="487.0" y1="203.6" x2="683.8" y2="203.6" stroke="#000" stroke-width="1.4"/>
<text x="482.50" y="14.20" font-size="9.5" font-weight="bold" text-anchor="end" >0</text>
<line x1="487.0" y1="21.93" x2="489.6" y2="21.93" stroke="#000" stroke-width="1.35"/>
<line x1="683.8" y1="21.93" x2="681.1999999999999" y2="21.93" stroke="#000" stroke-width="1.35"/>
<line x1="487.0" y1="33.55" x2="491.3" y2="33.55" stroke="#000" stroke-width="1.35"/>
<line x1="683.8" y1="33.55" x2="679.5" y2="33.55" stroke="#000" stroke-width="1.35"/>
<text x="482.50" y="37.45" font-size="9.5" font-weight="bold" text-anchor="end" >−5</text>
<line x1="487.0" y1="45.17" x2="489.6" y2="45.17" stroke="#000" stroke-width="1.35"/>
<line x1="683.8" y1="45.17" x2="681.1999999999999" y2="45.17" stroke="#000" stroke-width="1.35"/>
<line x1="487.0" y1="56.80" x2="491.3" y2="56.80" stroke="#000" stroke-width="1.35"/>
<line x1="683.8" y1="56.80" x2="679.5" y2="56.80" stroke="#000" stroke-width="1.35"/>
<text x="482.50" y="60.70" font-size="9.5" font-weight="bold" text-anchor="end" >−10</text>
<text x="482.50" y="81.80" font-size="9.5" font-weight="bold" text-anchor="end" >0</text>
<line x1="487.0" y1="89.53" x2="489.6" y2="89.53" stroke="#000" stroke-width="1.35"/>
<line x1="683.8" y1="89.53" x2="681.1999999999999" y2="89.53" stroke="#000" stroke-width="1.35"/>
<line x1="487.0" y1="101.15" x2="491.3" y2="101.15" stroke="#000" stroke-width="1.35"/>
<line x1="683.8" y1="101.15" x2="679.5" y2="101.15" stroke="#000" stroke-width="1.35"/>
<text x="482.50" y="105.05" font-size="9.5" font-weight="bold" text-anchor="end" >−5</text>
<line x1="487.0" y1="112.78" x2="489.6" y2="112.78" stroke="#000" stroke-width="1.35"/>
<line x1="683.8" y1="112.78" x2="681.1999999999999" y2="112.78" stroke="#000" stroke-width="1.35"/>
<line x1="487.0" y1="124.40" x2="491.3" y2="124.40" stroke="#000" stroke-width="1.35"/>
<line x1="683.8" y1="124.40" x2="679.5" y2="124.40" stroke="#000" stroke-width="1.35"/>
<text x="482.50" y="128.30" font-size="9.5" font-weight="bold" text-anchor="end" >−10</text>
<text x="482.50" y="149.30" font-size="9.5" font-weight="bold" text-anchor="end" >0</text>
<line x1="487.0" y1="157.03" x2="489.6" y2="157.03" stroke="#000" stroke-width="1.35"/>
<line x1="683.8" y1="157.03" x2="681.1999999999999" y2="157.03" stroke="#000" stroke-width="1.35"/>
<line x1="487.0" y1="168.65" x2="491.3" y2="168.65" stroke="#000" stroke-width="1.35"/>
<line x1="683.8" y1="168.65" x2="679.5" y2="168.65" stroke="#000" stroke-width="1.35"/>
<text x="482.50" y="172.55" font-size="9.5" font-weight="bold" text-anchor="end" >−5</text>
<line x1="487.0" y1="180.28" x2="489.6" y2="180.28" stroke="#000" stroke-width="1.35"/>
<line x1="683.8" y1="180.28" x2="681.1999999999999" y2="180.28" stroke="#000" stroke-width="1.35"/>
<line x1="487.0" y1="191.90" x2="491.3" y2="191.90" stroke="#000" stroke-width="1.35"/>
<line x1="683.8" y1="191.90" x2="679.5" y2="191.90" stroke="#000" stroke-width="1.35"/>
<text x="482.50" y="195.80" font-size="9.5" font-weight="bold" text-anchor="end" >−10</text>
<text x="482.50" y="216.90" font-size="9.5" font-weight="bold" text-anchor="end" >0</text>
<line x1="487.0" y1="224.62" x2="489.6" y2="224.62" stroke="#000" stroke-width="1.35"/>
<line x1="683.8" y1="224.62" x2="681.1999999999999" y2="224.62" stroke="#000" stroke-width="1.35"/>
<line x1="487.0" y1="236.25" x2="491.3" y2="236.25" stroke="#000" stroke-width="1.35"/>
<line x1="683.8" y1="236.25" x2="679.5" y2="236.25" stroke="#000" stroke-width="1.35"/>
<text x="482.50" y="240.15" font-size="9.5" font-weight="bold" text-anchor="end" >−5</text>
<line x1="487.0" y1="247.88" x2="489.6" y2="247.88" stroke="#000" stroke-width="1.35"/>
<line x1="683.8" y1="247.88" x2="681.1999999999999" y2="247.88" stroke="#000" stroke-width="1.35"/>
<line x1="487.0" y1="259.50" x2="491.3" y2="259.50" stroke="#000" stroke-width="1.35"/>
<line x1="683.8" y1="259.50" x2="679.5" y2="259.50" stroke="#000" stroke-width="1.35"/>
<text x="482.50" y="263.40" font-size="9.5" font-weight="bold" text-anchor="end" >−10</text>
<line x1="501.00" y1="0.8" x2="501.00" y2="5.1" stroke="#000" stroke-width="1.35"/>
<line x1="501.00" y1="271.0" x2="501.00" y2="266.7" stroke="#000" stroke-width="1.35"/>
<text x="501.00" y="283.80" font-size="9.5" font-weight="bold" text-anchor="middle" >600</text>
<line x1="528.80" y1="0.8" x2="528.80" y2="3.4000000000000004" stroke="#000" stroke-width="1.35"/>
<line x1="528.80" y1="271.0" x2="528.80" y2="268.4" stroke="#000" stroke-width="1.35"/>
<line x1="556.60" y1="0.8" x2="556.60" y2="5.1" stroke="#000" stroke-width="1.35"/>
<line x1="556.60" y1="271.0" x2="556.60" y2="266.7" stroke="#000" stroke-width="1.35"/>
<text x="556.60" y="283.80" font-size="9.5" font-weight="bold" text-anchor="middle" >800</text>
<line x1="584.40" y1="0.8" x2="584.40" y2="3.4000000000000004" stroke="#000" stroke-width="1.35"/>
<line x1="584.40" y1="271.0" x2="584.40" y2="268.4" stroke="#000" stroke-width="1.35"/>
<line x1="612.20" y1="0.8" x2="612.20" y2="5.1" stroke="#000" stroke-width="1.35"/>
<line x1="612.20" y1="271.0" x2="612.20" y2="266.7" stroke="#000" stroke-width="1.35"/>
<text x="612.20" y="283.80" font-size="9.5" font-weight="bold" text-anchor="middle" >1000</text>
<line x1="640.00" y1="0.8" x2="640.00" y2="3.4000000000000004" stroke="#000" stroke-width="1.35"/>
<line x1="640.00" y1="271.0" x2="640.00" y2="268.4" stroke="#000" stroke-width="1.35"/>
<line x1="667.80" y1="0.8" x2="667.80" y2="5.1" stroke="#000" stroke-width="1.35"/>
<line x1="667.80" y1="271.0" x2="667.80" y2="266.7" stroke="#000" stroke-width="1.35"/>
<text x="667.80" y="283.80" font-size="9.5" font-weight="bold" text-anchor="middle" >1200</text>
<text x="589.60" y="297.20" font-size="9.5" font-weight="bold" text-anchor="middle" >Frequency (MHz)</text>
<text transform="translate(465.5,142) rotate(-90)" font-size="9.5" font-weight="bold" text-anchor="middle">S<tspan font-size="6.5" dy="2">11</tspan><tspan dy="-2"> (dB)</tspan></text>
<line x1="593.6" y1="56.4" x2="609.0" y2="56.4" stroke="#000" stroke-width="1.6"/>
<text x="613.50" y="59.80" font-size="9.5" font-weight="bold" text-anchor="start" >EC = 0.2 dS/m</text>
<line x1="593.6" y1="123.4" x2="609.0" y2="123.4" stroke="#E6A014" stroke-width="1.6"/>
<text x="613.50" y="126.80" font-size="9.5" font-weight="bold" text-anchor="start" >EC = 0.4 dS/m</text>
<line x1="593.6" y1="191.9" x2="609.0" y2="191.9" stroke="#CF79A8" stroke-width="1.6"/>
<text x="613.50" y="195.30" font-size="9.5" font-weight="bold" text-anchor="start" >EC = 0.6 dS/m</text>
<line x1="593.6" y1="259.9" x2="609.0" y2="259.9" stroke="#1473B4" stroke-width="1.6"/>
<text x="613.50" y="263.30" font-size="9.5" font-weight="bold" text-anchor="start" >EC = 0.8 dS/m</text>
<rect x="39.05" y="396.24" width="13.7" height="67.16" fill="#EBB237" stroke="#3a3a3a" stroke-width="0.5"/>
<text x="45.90" y="395.84" font-size="8.8" font-weight="bold" text-anchor="middle" letter-spacing="-0.35" stroke="#000" stroke-width="0.25">647</text>
<rect x="52.75" y="372.06" width="13.7" height="91.34" fill="#348CC3" stroke="#3a3a3a" stroke-width="0.5"/>
<text x="59.60" y="371.66" font-size="8.8" font-weight="bold" text-anchor="middle" letter-spacing="-0.35" stroke="#000" stroke-width="0.25">880</text>
<rect x="66.45" y="353.48" width="13.7" height="109.92" fill="#32AF8C" stroke="#3a3a3a" stroke-width="0.5"/>
<text x="73.30" y="353.08" font-size="8.8" font-weight="bold" text-anchor="middle" letter-spacing="-0.35" stroke="#000" stroke-width="0.25">1059</text>
<rect x="84.95" y="396.24" width="13.7" height="67.16" fill="#EBB237" stroke="#3a3a3a" stroke-width="0.5"/>
<text x="91.80" y="395.84" font-size="8.8" font-weight="bold" text-anchor="middle" letter-spacing="-0.35" stroke="#000" stroke-width="0.25">647</text>
<rect x="98.65" y="372.16" width="13.7" height="91.24" fill="#348CC3" stroke="#3a3a3a" stroke-width="0.5"/>
<text x="105.50" y="371.76" font-size="8.8" font-weight="bold" text-anchor="middle" letter-spacing="-0.35" stroke="#000" stroke-width="0.25">879</text>
<rect x="112.35" y="353.58" width="13.7" height="109.82" fill="#32AF8C" stroke="#3a3a3a" stroke-width="0.5"/>
<text x="119.20" y="353.18" font-size="8.8" font-weight="bold" text-anchor="middle" letter-spacing="-0.35" stroke="#000" stroke-width="0.25">1058</text>
<rect x="130.65" y="396.45" width="13.7" height="66.95" fill="#EBB237" stroke="#3a3a3a" stroke-width="0.5"/>
<text x="137.50" y="396.05" font-size="8.8" font-weight="bold" text-anchor="middle" letter-spacing="-0.35" stroke="#000" stroke-width="0.25">645</text>
<rect x="144.35" y="375.27" width="13.7" height="88.13" fill="#348CC3" stroke="#3a3a3a" stroke-width="0.5"/>
<text x="151.20" y="374.87" font-size="8.8" font-weight="bold" text-anchor="middle" letter-spacing="-0.35" stroke="#000" stroke-width="0.25">849</text>
<rect x="158.05" y="353.58" width="13.7" height="109.82" fill="#32AF8C" stroke="#3a3a3a" stroke-width="0.5"/>
<text x="164.90" y="353.18" font-size="8.8" font-weight="bold" text-anchor="middle" letter-spacing="-0.35" stroke="#000" stroke-width="0.25">1058</text>
<rect x="176.55" y="397.07" width="13.7" height="66.33" fill="#EBB237" stroke="#3a3a3a" stroke-width="0.5"/>
<text x="183.40" y="396.67" font-size="8.8" font-weight="bold" text-anchor="middle" letter-spacing="-0.35" stroke="#000" stroke-width="0.25">639</text>
<rect x="190.25" y="375.48" width="13.7" height="87.92" fill="#348CC3" stroke="#3a3a3a" stroke-width="0.5"/>
<text x="197.10" y="375.08" font-size="8.8" font-weight="bold" text-anchor="middle" letter-spacing="-0.35" stroke="#000" stroke-width="0.25">847</text>
<rect x="203.95" y="353.68" width="13.7" height="109.72" fill="#32AF8C" stroke="#3a3a3a" stroke-width="0.5"/>
<text x="210.80" y="353.28" font-size="8.8" font-weight="bold" text-anchor="middle" letter-spacing="-0.35" stroke="#000" stroke-width="0.25">1057</text>
<rect x="30.1" y="310.5" width="196.00" height="152.90" fill="none" stroke="#000" stroke-width="1.6"/>
<line x1="30.1" y1="463.40" x2="34.4" y2="463.40" stroke="#000" stroke-width="1.35"/>
<line x1="226.1" y1="463.40" x2="221.79999999999998" y2="463.40" stroke="#000" stroke-width="1.35"/>
<text x="25.40" y="466.80" font-size="9.5" font-weight="bold" text-anchor="end" >0</text>
<line x1="30.1" y1="447.83" x2="32.7" y2="447.83" stroke="#000" stroke-width="1.35"/>
<line x1="226.1" y1="447.83" x2="223.5" y2="447.83" stroke="#000" stroke-width="1.35"/>
<line x1="30.1" y1="432.26" x2="34.4" y2="432.26" stroke="#000" stroke-width="1.35"/>
<line x1="226.1" y1="432.26" x2="221.79999999999998" y2="432.26" stroke="#000" stroke-width="1.35"/>
<text x="25.40" y="435.66" font-size="9.5" font-weight="bold" text-anchor="end" >300</text>
<line x1="30.1" y1="416.69" x2="32.7" y2="416.69" stroke="#000" stroke-width="1.35"/>
<line x1="226.1" y1="416.69" x2="223.5" y2="416.69" stroke="#000" stroke-width="1.35"/>
<line x1="30.1" y1="401.12" x2="34.4" y2="401.12" stroke="#000" stroke-width="1.35"/>
<line x1="226.1" y1="401.12" x2="221.79999999999998" y2="401.12" stroke="#000" stroke-width="1.35"/>
<text x="25.40" y="404.52" font-size="9.5" font-weight="bold" text-anchor="end" >600</text>
<line x1="30.1" y1="385.55" x2="32.7" y2="385.55" stroke="#000" stroke-width="1.35"/>
<line x1="226.1" y1="385.55" x2="223.5" y2="385.55" stroke="#000" stroke-width="1.35"/>
<line x1="30.1" y1="369.98" x2="34.4" y2="369.98" stroke="#000" stroke-width="1.35"/>
<line x1="226.1" y1="369.98" x2="221.79999999999998" y2="369.98" stroke="#000" stroke-width="1.35"/>
<text x="25.40" y="373.38" font-size="9.5" font-weight="bold" text-anchor="end" >900</text>
<line x1="30.1" y1="354.41" x2="32.7" y2="354.41" stroke="#000" stroke-width="1.35"/>
<line x1="226.1" y1="354.41" x2="223.5" y2="354.41" stroke="#000" stroke-width="1.35"/>
<line x1="30.1" y1="338.84" x2="34.4" y2="338.84" stroke="#000" stroke-width="1.35"/>
<line x1="226.1" y1="338.84" x2="221.79999999999998" y2="338.84" stroke="#000" stroke-width="1.35"/>
<text x="25.40" y="342.24" font-size="9.5" font-weight="bold" text-anchor="end" >1200</text>
<line x1="30.1" y1="323.27" x2="32.7" y2="323.27" stroke="#000" stroke-width="1.35"/>
<line x1="226.1" y1="323.27" x2="223.5" y2="323.27" stroke="#000" stroke-width="1.35"/>
<line x1="59.6" y1="463.4" x2="59.6" y2="459.09999999999997" stroke="#000" stroke-width="1.35"/>
<line x1="105.5" y1="463.4" x2="105.5" y2="459.09999999999997" stroke="#000" stroke-width="1.35"/>
<line x1="151.2" y1="463.4" x2="151.2" y2="459.09999999999997" stroke="#000" stroke-width="1.35"/>
<line x1="197.1" y1="463.4" x2="197.1" y2="459.09999999999997" stroke="#000" stroke-width="1.35"/>
<line x1="55.9" y1="310.5" x2="55.9" y2="314.8" stroke="#000" stroke-width="1.35"/>
<line x1="105.3" y1="310.5" x2="105.3" y2="314.8" stroke="#000" stroke-width="1.35"/>
<line x1="151.1" y1="310.5" x2="151.1" y2="314.8" stroke="#000" stroke-width="1.35"/>
<line x1="196.8" y1="310.5" x2="196.8" y2="314.8" stroke="#000" stroke-width="1.35"/>
<rect x="36.3" y="315.8" width="17.2" height="6.3" fill="#EBB237" stroke="#444" stroke-width="0.4"/>
<text x="57.4" y="323.00" font-size="9.5" font-weight="bold">f<tspan font-size="6.5" dy="1.8">r</tspan><tspan dy="-1.8"> of SRR</tspan><tspan font-size="6.5" dy="1.8">EC</tspan></text>
<rect x="36.3" y="326.7" width="17.2" height="6.3" fill="#348CC3" stroke="#444" stroke-width="0.4"/>
<text x="57.4" y="333.90" font-size="9.5" font-weight="bold">f<tspan font-size="6.5" dy="1.8">r</tspan><tspan dy="-1.8"> of SRR</tspan><tspan font-size="6.5" dy="1.8">VWC</tspan></text>
<rect x="36.3" y="336.6" width="17.2" height="6.3" fill="#32AF8C" stroke="#444" stroke-width="0.4"/>
<text x="57.4" y="343.80" font-size="9.5" font-weight="bold">f<tspan font-size="6.5" dy="1.8">r</tspan><tspan dy="-1.8"> of SRR</tspan><tspan font-size="6.5" dy="1.8">Ref</tspan></text>
<text transform="translate(6.5,391.3) rotate(-90)" font-size="9.5" font-weight="bold" text-anchor="middle">Frequency (MHz)</text>
<text transform="translate(54.05,478.65) rotate(-45)" font-size="9.5" font-weight="bold" text-anchor="middle" dy="3.4">SRR</text>
<text transform="translate(100.45,485.20) rotate(-45)" font-size="9.5" font-weight="bold" text-anchor="middle" dy="3.4">SRR/Ref</text>
<text transform="translate(143.25,486.05) rotate(-45)" font-size="9.5" font-weight="bold" text-anchor="middle" dy="3.4">SRR/Ref/</text>
<text transform="translate(153.35,492.50) rotate(-45)" font-size="9.5" font-weight="bold" text-anchor="middle" dy="3.4">VWC</text>
<text transform="translate(193.85,481.65) rotate(-45)" font-size="9.5" font-weight="bold" text-anchor="middle" dy="3.4">SRR/Ref/</text>
<text transform="translate(201.05,491.35) rotate(-45)" font-size="9.5" font-weight="bold" text-anchor="middle" dy="3.4">VWC/EC</text>
<rect x="259.1" y="310.4" width="195.90" height="153.50" fill="none" stroke="#000" stroke-width="1.6"/>
<line x1="266.20" y1="463.9" x2="266.20" y2="459.59999999999997" stroke="#000" stroke-width="1.35"/>
<line x1="266.20" y1="310.4" x2="266.20" y2="314.7" stroke="#000" stroke-width="1.35"/>
<line x1="302.64" y1="463.9" x2="302.64" y2="459.59999999999997" stroke="#000" stroke-width="1.35"/>
<line x1="302.64" y1="310.4" x2="302.64" y2="314.7" stroke="#000" stroke-width="1.35"/>
<line x1="339.08" y1="463.9" x2="339.08" y2="459.59999999999997" stroke="#000" stroke-width="1.35"/>
<line x1="339.08" y1="310.4" x2="339.08" y2="314.7" stroke="#000" stroke-width="1.35"/>
<line x1="375.52" y1="463.9" x2="375.52" y2="459.59999999999997" stroke="#000" stroke-width="1.35"/>
<line x1="375.52" y1="310.4" x2="375.52" y2="314.7" stroke="#000" stroke-width="1.35"/>
<line x1="411.96" y1="463.9" x2="411.96" y2="459.59999999999997" stroke="#000" stroke-width="1.35"/>
<line x1="411.96" y1="310.4" x2="411.96" y2="314.7" stroke="#000" stroke-width="1.35"/>
<line x1="448.40" y1="463.9" x2="448.40" y2="459.59999999999997" stroke="#000" stroke-width="1.35"/>
<line x1="448.40" y1="310.4" x2="448.40" y2="314.7" stroke="#000" stroke-width="1.35"/>
<line x1="284.42" y1="463.9" x2="284.42" y2="461.29999999999995" stroke="#000" stroke-width="1.35"/>
<line x1="284.42" y1="310.4" x2="284.42" y2="313.0" stroke="#000" stroke-width="1.35"/>
<line x1="320.86" y1="463.9" x2="320.86" y2="461.29999999999995" stroke="#000" stroke-width="1.35"/>
<line x1="320.86" y1="310.4" x2="320.86" y2="313.0" stroke="#000" stroke-width="1.35"/>
<line x1="357.30" y1="463.9" x2="357.30" y2="461.29999999999995" stroke="#000" stroke-width="1.35"/>
<line x1="357.30" y1="310.4" x2="357.30" y2="313.0" stroke="#000" stroke-width="1.35"/>
<line x1="393.74" y1="463.9" x2="393.74" y2="461.29999999999995" stroke="#000" stroke-width="1.35"/>
<line x1="393.74" y1="310.4" x2="393.74" y2="313.0" stroke="#000" stroke-width="1.35"/>
<line x1="430.18" y1="463.9" x2="430.18" y2="461.29999999999995" stroke="#000" stroke-width="1.35"/>
<line x1="430.18" y1="310.4" x2="430.18" y2="313.0" stroke="#000" stroke-width="1.35"/>
<text x="266.20" y="476.70" font-size="9.5" font-weight="bold" text-anchor="middle" >0</text>
<text x="302.64" y="476.70" font-size="9.5" font-weight="bold" text-anchor="middle" >5</text>
<text x="339.08" y="476.70" font-size="9.5" font-weight="bold" text-anchor="middle" >10</text>
<text x="375.52" y="476.70" font-size="9.5" font-weight="bold" text-anchor="middle" >15</text>
<text x="411.96" y="476.70" font-size="9.5" font-weight="bold" text-anchor="middle" >20</text>
<text x="448.40" y="476.70" font-size="9.5" font-weight="bold" text-anchor="middle" >25</text>
<line x1="259.1" y1="457.60" x2="263.40000000000003" y2="457.60" stroke="#000" stroke-width="1.35"/>
<line x1="455.0" y1="457.60" x2="450.7" y2="457.60" stroke="#000" stroke-width="1.35"/>
<line x1="259.1" y1="422.65" x2="263.40000000000003" y2="422.65" stroke="#000" stroke-width="1.35"/>
<line x1="455.0" y1="422.65" x2="450.7" y2="422.65" stroke="#000" stroke-width="1.35"/>
<line x1="259.1" y1="387.70" x2="263.40000000000003" y2="387.70" stroke="#000" stroke-width="1.35"/>
<line x1="455.0" y1="387.70" x2="450.7" y2="387.70" stroke="#000" stroke-width="1.35"/>
<line x1="259.1" y1="352.75" x2="263.40000000000003" y2="352.75" stroke="#000" stroke-width="1.35"/>
<line x1="455.0" y1="352.75" x2="450.7" y2="352.75" stroke="#000" stroke-width="1.35"/>
<line x1="259.1" y1="317.80" x2="263.40000000000003" y2="317.80" stroke="#000" stroke-width="1.35"/>
<line x1="455.0" y1="317.80" x2="450.7" y2="317.80" stroke="#000" stroke-width="1.35"/>
<line x1="259.1" y1="440.12" x2="261.70000000000005" y2="440.12" stroke="#000" stroke-width="1.35"/>
<line x1="455.0" y1="440.12" x2="452.4" y2="440.12" stroke="#000" stroke-width="1.35"/>
<line x1="259.1" y1="405.18" x2="261.70000000000005" y2="405.18" stroke="#000" stroke-width="1.35"/>
<line x1="455.0" y1="405.18" x2="452.4" y2="405.18" stroke="#000" stroke-width="1.35"/>
<line x1="259.1" y1="370.23" x2="261.70000000000005" y2="370.23" stroke="#000" stroke-width="1.35"/>
<line x1="455.0" y1="370.23" x2="452.4" y2="370.23" stroke="#000" stroke-width="1.35"/>
<line x1="259.1" y1="335.28" x2="261.70000000000005" y2="335.28" stroke="#000" stroke-width="1.35"/>
<line x1="455.0" y1="335.28" x2="452.4" y2="335.28" stroke="#000" stroke-width="1.35"/>
<text x="253.70" y="461.60" font-size="9.5" font-weight="bold" text-anchor="end" >750</text>
<text x="253.70" y="426.65" font-size="9.5" font-weight="bold" text-anchor="end" >800</text>
<text x="253.70" y="391.70" font-size="9.5" font-weight="bold" text-anchor="end" >850</text>
<text x="253.70" y="356.75" font-size="9.5" font-weight="bold" text-anchor="end" >900</text>
<text x="253.70" y="321.80" font-size="9.5" font-weight="bold" text-anchor="end" >950</text>
<polyline points="266.20,340.66 302.64,357.99 339.08,378.19 375.52,399.79 411.96,419.85 448.40,434.81" fill="none" stroke="#E6A014" stroke-width="1.5"/>
<circle cx="266.20" cy="340.66" r="2.8" fill="#E6A014"/>
<circle cx="302.64" cy="357.99" r="2.8" fill="#E6A014"/>
<circle cx="339.08" cy="378.19" r="2.8" fill="#E6A014"/>
<circle cx="375.52" cy="399.79" r="2.8" fill="#E6A014"/>
<circle cx="411.96" cy="419.85" r="2.8" fill="#E6A014"/>
<circle cx="448.40" cy="434.81" r="2.8" fill="#E6A014"/>
<text x="357.05" y="490.10" font-size="9.5" font-weight="bold" text-anchor="middle" >VWC (%)</text>
<text transform="translate(235.5,379.5) rotate(-90)" font-size="9.5" font-weight="bold" text-anchor="middle">Frequency (MHz)</text>
<rect x="488.7" y="310.5" width="195.10" height="153.30" fill="none" stroke="#000" stroke-width="1.6"/>
<line x1="499.60" y1="463.8" x2="499.60" y2="459.5" stroke="#000" stroke-width="1.35"/>
<line x1="499.60" y1="310.5" x2="499.60" y2="314.8" stroke="#000" stroke-width="1.35"/>
<line x1="542.58" y1="463.8" x2="542.58" y2="459.5" stroke="#000" stroke-width="1.35"/>
<line x1="542.58" y1="310.5" x2="542.58" y2="314.8" stroke="#000" stroke-width="1.35"/>
<line x1="585.56" y1="463.8" x2="585.56" y2="459.5" stroke="#000" stroke-width="1.35"/>
<line x1="585.56" y1="310.5" x2="585.56" y2="314.8" stroke="#000" stroke-width="1.35"/>
<line x1="628.54" y1="463.8" x2="628.54" y2="459.5" stroke="#000" stroke-width="1.35"/>
<line x1="628.54" y1="310.5" x2="628.54" y2="314.8" stroke="#000" stroke-width="1.35"/>
<line x1="671.52" y1="463.8" x2="671.52" y2="459.5" stroke="#000" stroke-width="1.35"/>
<line x1="671.52" y1="310.5" x2="671.52" y2="314.8" stroke="#000" stroke-width="1.35"/>
<line x1="521.09" y1="463.8" x2="521.09" y2="461.2" stroke="#000" stroke-width="1.35"/>
<line x1="521.09" y1="310.5" x2="521.09" y2="313.1" stroke="#000" stroke-width="1.35"/>
<line x1="564.07" y1="463.8" x2="564.07" y2="461.2" stroke="#000" stroke-width="1.35"/>
<line x1="564.07" y1="310.5" x2="564.07" y2="313.1" stroke="#000" stroke-width="1.35"/>
<line x1="607.05" y1="463.8" x2="607.05" y2="461.2" stroke="#000" stroke-width="1.35"/>
<line x1="607.05" y1="310.5" x2="607.05" y2="313.1" stroke="#000" stroke-width="1.35"/>
<line x1="650.03" y1="463.8" x2="650.03" y2="461.2" stroke="#000" stroke-width="1.35"/>
<line x1="650.03" y1="310.5" x2="650.03" y2="313.1" stroke="#000" stroke-width="1.35"/>
<text x="499.60" y="476.40" font-size="9.5" font-weight="bold" text-anchor="middle" >0.0</text>
<text x="542.58" y="476.40" font-size="9.5" font-weight="bold" text-anchor="middle" >0.2</text>
<text x="585.56" y="476.40" font-size="9.5" font-weight="bold" text-anchor="middle" >0.4</text>
<text x="628.54" y="476.40" font-size="9.5" font-weight="bold" text-anchor="middle" >0.6</text>
<text x="671.52" y="476.40" font-size="9.5" font-weight="bold" text-anchor="middle" >0.8</text>
<line x1="488.7" y1="443.15" x2="493.0" y2="443.15" stroke="#000" stroke-width="1.35"/>
<line x1="683.8" y1="443.15" x2="679.5" y2="443.15" stroke="#000" stroke-width="1.35"/>
<line x1="488.7" y1="417.60" x2="493.0" y2="417.60" stroke="#000" stroke-width="1.35"/>
<line x1="683.8" y1="417.60" x2="679.5" y2="417.60" stroke="#000" stroke-width="1.35"/>
<line x1="488.7" y1="392.05" x2="493.0" y2="392.05" stroke="#000" stroke-width="1.35"/>
<line x1="683.8" y1="392.05" x2="679.5" y2="392.05" stroke="#000" stroke-width="1.35"/>
<line x1="488.7" y1="366.50" x2="493.0" y2="366.50" stroke="#000" stroke-width="1.35"/>
<line x1="683.8" y1="366.50" x2="679.5" y2="366.50" stroke="#000" stroke-width="1.35"/>
<line x1="488.7" y1="340.95" x2="493.0" y2="340.95" stroke="#000" stroke-width="1.35"/>
<line x1="683.8" y1="340.95" x2="679.5" y2="340.95" stroke="#000" stroke-width="1.35"/>
<line x1="488.7" y1="315.40" x2="493.0" y2="315.40" stroke="#000" stroke-width="1.35"/>
<line x1="683.8" y1="315.40" x2="679.5" y2="315.40" stroke="#000" stroke-width="1.35"/>
<line x1="488.7" y1="455.92" x2="491.3" y2="455.92" stroke="#000" stroke-width="1.35"/>
<line x1="683.8" y1="455.92" x2="681.1999999999999" y2="455.92" stroke="#000" stroke-width="1.35"/>
<line x1="488.7" y1="430.38" x2="491.3" y2="430.38" stroke="#000" stroke-width="1.35"/>
<line x1="683.8" y1="430.38" x2="681.1999999999999" y2="430.38" stroke="#000" stroke-width="1.35"/>
<line x1="488.7" y1="404.82" x2="491.3" y2="404.82" stroke="#000" stroke-width="1.35"/>
<line x1="683.8" y1="404.82" x2="681.1999999999999" y2="404.82" stroke="#000" stroke-width="1.35"/>
<line x1="488.7" y1="379.27" x2="491.3" y2="379.27" stroke="#000" stroke-width="1.35"/>
<line x1="683.8" y1="379.27" x2="681.1999999999999" y2="379.27" stroke="#000" stroke-width="1.35"/>
<line x1="488.7" y1="353.72" x2="491.3" y2="353.72" stroke="#000" stroke-width="1.35"/>
<line x1="683.8" y1="353.72" x2="681.1999999999999" y2="353.72" stroke="#000" stroke-width="1.35"/>
<line x1="488.7" y1="328.17" x2="491.3" y2="328.17" stroke="#000" stroke-width="1.35"/>
<line x1="683.8" y1="328.17" x2="681.1999999999999" y2="328.17" stroke="#000" stroke-width="1.35"/>
<text x="481.10" y="447.15" font-size="9.5" font-weight="bold" text-anchor="end" >5</text>
<text x="481.10" y="421.60" font-size="9.5" font-weight="bold" text-anchor="end" >6</text>
<text x="481.10" y="396.05" font-size="9.5" font-weight="bold" text-anchor="end" >7</text>
<text x="481.10" y="370.50" font-size="9.5" font-weight="bold" text-anchor="end" >8</text>
<text x="481.10" y="344.95" font-size="9.5" font-weight="bold" text-anchor="end" >9</text>
<text x="481.10" y="319.40" font-size="9.5" font-weight="bold" text-anchor="end" >10</text>
<polyline points="499.60,339.42 542.58,366.76 585.56,386.94 628.54,409.94 671.52,425.78" fill="none" stroke="#E6A014" stroke-width="1.5"/>
<circle cx="499.60" cy="339.42" r="2.8" fill="#E6A014"/>
<circle cx="542.58" cy="366.76" r="2.8" fill="#E6A014"/>
<circle cx="585.56" cy="386.94" r="2.8" fill="#E6A014"/>
<circle cx="628.54" cy="409.94" r="2.8" fill="#E6A014"/>
<circle cx="671.52" cy="425.78" r="2.8" fill="#E6A014"/>
<text x="587.15" y="490.10" font-size="9.5" font-weight="bold" text-anchor="middle" >Conductivity (dS/m)</text>
<text transform="translate(471.5,383.1) rotate(-90)" font-size="9.5" font-weight="bold" text-anchor="middle">|S<tspan font-size="6.5" dy="1.8">11</tspan><tspan dy="-1.8"> (dB)|</tspan></text>
<text x="7.90" y="4.80" font-size="9.5" font-weight="bold" text-anchor="start" >a</text>
<text x="231.10" y="5.00" font-size="9.5" font-weight="bold" text-anchor="start" >c</text>
<text x="462.40" y="5.00" font-size="9.5" font-weight="bold" text-anchor="start" >e</text>
<text x="7.00" y="314.00" font-size="9.5" font-weight="bold" text-anchor="start" >b</text>
<text x="230.80" y="313.80" font-size="9.5" font-weight="bold" text-anchor="start" >d</text>
<text x="462.50" y="314.50" font-size="9.5" font-weight="bold" text-anchor="start" >f</text>
</svg></body></html>
